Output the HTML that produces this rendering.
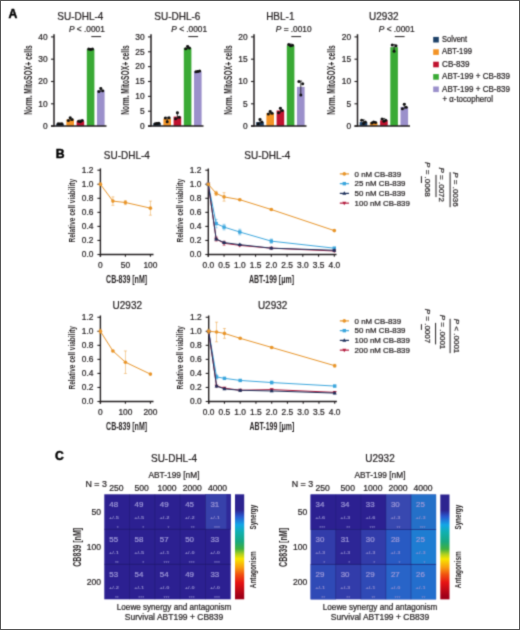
<!DOCTYPE html>
<html><head><meta charset="utf-8"><style>
html,body{margin:0;padding:0;background:#fff;}
svg{display:block;font-family:"Liberation Sans", sans-serif;}
</style></head><body><div style="will-change:transform">
<svg width="520" height="630" viewBox="0 0 520 630">
<defs>
<filter id="soft" x="0" y="0" width="1" height="1" color-interpolation-filters="sRGB"><feConvolveMatrix order="3" kernelMatrix="1 4 1 4 16 4 1 4 1" divisor="36" edgeMode="duplicate"/></filter>
<linearGradient id="cbar" x1="0" y1="0" x2="0" y2="1">
<stop offset="0" stop-color="#2d2490"/>
<stop offset="0.15" stop-color="#2d2490"/>
<stop offset="0.21" stop-color="#2a58d0"/>
<stop offset="0.29" stop-color="#12a6e6"/>
<stop offset="0.36" stop-color="#10b0b0"/>
<stop offset="0.45" stop-color="#18a880"/>
<stop offset="0.52" stop-color="#40b040"/>
<stop offset="0.57" stop-color="#b0d020"/>
<stop offset="0.615" stop-color="#f8e600"/>
<stop offset="0.7" stop-color="#f89a10"/>
<stop offset="0.765" stop-color="#f05010"/>
<stop offset="0.84" stop-color="#e61414"/>
<stop offset="0.97" stop-color="#a00018"/>
<stop offset="1" stop-color="#a00018"/>
</linearGradient>
</defs>
<g filter="url(#soft)"><rect width="520" height="630" fill="#fff"/>
<text transform="translate(8.60 17.70)" font-size="12.2" text-anchor="start" fill="#000" font-weight="bold" stroke="#000" stroke-width="0.45">A</text>
<text transform="translate(80.30 19.80) scale(0.96 1)" font-size="10.4" text-anchor="middle" fill="#231f20" stroke="#231f20" stroke-width="0.22">SU-DHL-4</text>
<line x1="54.00" y1="34.20" x2="54.00" y2="126.60" stroke="#231f20" stroke-width="1.5" />
<line x1="51.00" y1="126.10" x2="54.00" y2="126.10" stroke="#231f20" stroke-width="1.1" />
<text transform="translate(47.60 128.90)" font-size="8.4" text-anchor="end" fill="#231f20" stroke="#231f20" stroke-width="0.22">0</text>
<line x1="51.00" y1="103.80" x2="54.00" y2="103.80" stroke="#231f20" stroke-width="1.1" />
<text transform="translate(47.60 106.60)" font-size="8.4" text-anchor="end" fill="#231f20" stroke="#231f20" stroke-width="0.22">10</text>
<line x1="51.00" y1="81.50" x2="54.00" y2="81.50" stroke="#231f20" stroke-width="1.1" />
<text transform="translate(47.60 84.30)" font-size="8.4" text-anchor="end" fill="#231f20" stroke="#231f20" stroke-width="0.22">20</text>
<line x1="51.00" y1="59.20" x2="54.00" y2="59.20" stroke="#231f20" stroke-width="1.1" />
<text transform="translate(47.60 62.00)" font-size="8.4" text-anchor="end" fill="#231f20" stroke="#231f20" stroke-width="0.22">30</text>
<line x1="51.00" y1="36.90" x2="54.00" y2="36.90" stroke="#231f20" stroke-width="1.1" />
<text transform="translate(47.60 39.70)" font-size="8.4" text-anchor="end" fill="#231f20" stroke="#231f20" stroke-width="0.22">40</text>
<text transform="translate(31.80 80.00) rotate(-90)" font-size="11" text-anchor="middle" fill="#231f20" font-weight="bold" textLength="69.5" lengthAdjust="spacingAndGlyphs">Norm. MitoSOX+ cells</text>
<rect x="56.20" y="123.87" width="7.60" height="2.23" fill="#1e4269" />
<line x1="60.00" y1="123.15" x2="60.00" y2="124.59" stroke="#111" stroke-width="0.8" />
<line x1="58.70" y1="123.15" x2="61.30" y2="123.15" stroke="#111" stroke-width="0.7" />
<circle cx="58.10" cy="123.87" r="1.5" fill="#111"/>
<circle cx="60.00" cy="124.09" r="1.5" fill="#111"/>
<circle cx="61.90" cy="123.65" r="1.5" fill="#111"/>
<rect x="66.40" y="119.41" width="7.60" height="6.69" fill="#f39325" />
<line x1="70.20" y1="117.35" x2="70.20" y2="121.02" stroke="#111" stroke-width="0.8" />
<line x1="68.90" y1="117.35" x2="71.50" y2="117.35" stroke="#111" stroke-width="0.7" />
<circle cx="68.30" cy="120.52" r="1.5" fill="#111"/>
<circle cx="70.20" cy="117.85" r="1.5" fill="#111"/>
<circle cx="72.10" cy="119.41" r="1.5" fill="#111"/>
<rect x="76.60" y="121.19" width="7.60" height="4.91" fill="#c0122f" />
<line x1="80.40" y1="120.02" x2="80.40" y2="122.14" stroke="#111" stroke-width="0.8" />
<line x1="79.10" y1="120.02" x2="81.70" y2="120.02" stroke="#111" stroke-width="0.7" />
<circle cx="78.50" cy="121.19" r="1.5" fill="#111"/>
<circle cx="80.40" cy="121.64" r="1.5" fill="#111"/>
<circle cx="82.30" cy="120.52" r="1.5" fill="#111"/>
<rect x="86.80" y="49.17" width="7.60" height="76.93" fill="#3aaa35" />
<line x1="90.60" y1="48.44" x2="90.60" y2="50.11" stroke="#111" stroke-width="0.8" />
<line x1="89.30" y1="48.44" x2="91.90" y2="48.44" stroke="#111" stroke-width="0.7" />
<circle cx="88.70" cy="48.94" r="1.5" fill="#111"/>
<circle cx="90.60" cy="49.61" r="1.5" fill="#111"/>
<circle cx="92.50" cy="48.94" r="1.5" fill="#111"/>
<rect x="97.00" y="90.42" width="7.60" height="35.68" fill="#9b90cb" />
<line x1="100.80" y1="87.91" x2="100.80" y2="92.03" stroke="#111" stroke-width="0.8" />
<line x1="99.50" y1="87.91" x2="102.10" y2="87.91" stroke="#111" stroke-width="0.7" />
<circle cx="98.90" cy="91.53" r="1.5" fill="#111"/>
<circle cx="100.80" cy="88.41" r="1.5" fill="#111"/>
<circle cx="102.70" cy="90.87" r="1.5" fill="#111"/>
<line x1="51.00" y1="126.10" x2="106.50" y2="126.10" stroke="#231f20" stroke-width="1.5" />
<text x="69.00" y="32.3" font-size="8.3" fill="#231f20" stroke="#231f20" stroke-width="0.22"><tspan font-style="italic">P</tspan> &lt; .0001</text>
<line x1="91.30" y1="36.60" x2="101.10" y2="36.60" stroke="#231f20" stroke-width="1.0" />
<text transform="translate(177.30 19.80) scale(0.96 1)" font-size="10.4" text-anchor="middle" fill="#231f20" stroke="#231f20" stroke-width="0.22">SU-DHL-6</text>
<line x1="151.00" y1="34.20" x2="151.00" y2="126.60" stroke="#231f20" stroke-width="1.5" />
<line x1="148.00" y1="126.10" x2="151.00" y2="126.10" stroke="#231f20" stroke-width="1.1" />
<text transform="translate(144.60 128.90)" font-size="8.4" text-anchor="end" fill="#231f20" stroke="#231f20" stroke-width="0.22">0</text>
<line x1="148.00" y1="111.23" x2="151.00" y2="111.23" stroke="#231f20" stroke-width="1.1" />
<text transform="translate(144.60 114.03)" font-size="8.4" text-anchor="end" fill="#231f20" stroke="#231f20" stroke-width="0.22">5</text>
<line x1="148.00" y1="96.37" x2="151.00" y2="96.37" stroke="#231f20" stroke-width="1.1" />
<text transform="translate(144.60 99.17)" font-size="8.4" text-anchor="end" fill="#231f20" stroke="#231f20" stroke-width="0.22">10</text>
<line x1="148.00" y1="81.50" x2="151.00" y2="81.50" stroke="#231f20" stroke-width="1.1" />
<text transform="translate(144.60 84.30)" font-size="8.4" text-anchor="end" fill="#231f20" stroke="#231f20" stroke-width="0.22">15</text>
<line x1="148.00" y1="66.63" x2="151.00" y2="66.63" stroke="#231f20" stroke-width="1.1" />
<text transform="translate(144.60 69.43)" font-size="8.4" text-anchor="end" fill="#231f20" stroke="#231f20" stroke-width="0.22">20</text>
<line x1="148.00" y1="51.77" x2="151.00" y2="51.77" stroke="#231f20" stroke-width="1.1" />
<text transform="translate(144.60 54.57)" font-size="8.4" text-anchor="end" fill="#231f20" stroke="#231f20" stroke-width="0.22">25</text>
<line x1="148.00" y1="36.90" x2="151.00" y2="36.90" stroke="#231f20" stroke-width="1.1" />
<text transform="translate(144.60 39.70)" font-size="8.4" text-anchor="end" fill="#231f20" stroke="#231f20" stroke-width="0.22">30</text>
<text transform="translate(128.80 80.00) rotate(-90)" font-size="11" text-anchor="middle" fill="#231f20" font-weight="bold" textLength="69.5" lengthAdjust="spacingAndGlyphs">Norm. MitoSOX+ cells</text>
<rect x="153.20" y="123.42" width="7.60" height="2.68" fill="#1e4269" />
<line x1="157.00" y1="122.63" x2="157.00" y2="124.22" stroke="#111" stroke-width="0.8" />
<line x1="155.70" y1="122.63" x2="158.30" y2="122.63" stroke="#111" stroke-width="0.7" />
<circle cx="155.10" cy="123.72" r="1.5" fill="#111"/>
<circle cx="157.00" cy="123.42" r="1.5" fill="#111"/>
<circle cx="158.90" cy="123.13" r="1.5" fill="#111"/>
<rect x="163.40" y="118.67" width="7.60" height="7.43" fill="#f39325" />
<line x1="167.20" y1="117.27" x2="167.20" y2="122.14" stroke="#111" stroke-width="0.8" />
<line x1="165.90" y1="117.27" x2="168.50" y2="117.27" stroke="#111" stroke-width="0.7" />
<circle cx="165.30" cy="118.07" r="1.5" fill="#111"/>
<circle cx="167.20" cy="121.64" r="1.5" fill="#111"/>
<circle cx="169.10" cy="117.77" r="1.5" fill="#111"/>
<rect x="173.60" y="116.59" width="7.60" height="9.51" fill="#c0122f" />
<line x1="177.40" y1="112.22" x2="177.40" y2="119.17" stroke="#111" stroke-width="0.8" />
<line x1="176.10" y1="112.22" x2="178.70" y2="112.22" stroke="#111" stroke-width="0.7" />
<circle cx="175.50" cy="118.67" r="1.5" fill="#111"/>
<circle cx="177.40" cy="112.72" r="1.5" fill="#111"/>
<circle cx="179.30" cy="117.18" r="1.5" fill="#111"/>
<rect x="183.80" y="47.90" width="7.60" height="78.20" fill="#3aaa35" />
<line x1="187.60" y1="45.91" x2="187.60" y2="49.29" stroke="#111" stroke-width="0.8" />
<line x1="186.30" y1="45.91" x2="188.90" y2="45.91" stroke="#111" stroke-width="0.7" />
<circle cx="185.70" cy="48.79" r="1.5" fill="#111"/>
<circle cx="187.60" cy="46.41" r="1.5" fill="#111"/>
<circle cx="189.50" cy="47.90" r="1.5" fill="#111"/>
<rect x="194.00" y="71.39" width="7.60" height="54.71" fill="#9b90cb" />
<line x1="197.80" y1="70.59" x2="197.80" y2="72.19" stroke="#111" stroke-width="0.8" />
<line x1="196.50" y1="70.59" x2="199.10" y2="70.59" stroke="#111" stroke-width="0.7" />
<circle cx="195.90" cy="71.69" r="1.5" fill="#111"/>
<circle cx="197.80" cy="71.39" r="1.5" fill="#111"/>
<circle cx="199.70" cy="71.09" r="1.5" fill="#111"/>
<line x1="148.00" y1="126.10" x2="203.50" y2="126.10" stroke="#231f20" stroke-width="1.5" />
<text x="171.30" y="32.3" font-size="8.3" fill="#231f20" stroke="#231f20" stroke-width="0.22"><tspan font-style="italic">P</tspan> &lt; .0001</text>
<line x1="188.30" y1="36.60" x2="198.10" y2="36.60" stroke="#231f20" stroke-width="1.0" />
<text transform="translate(280.30 19.80) scale(0.96 1)" font-size="10.4" text-anchor="middle" fill="#231f20" stroke="#231f20" stroke-width="0.22">HBL-1</text>
<line x1="254.00" y1="34.20" x2="254.00" y2="126.60" stroke="#231f20" stroke-width="1.5" />
<line x1="251.00" y1="126.10" x2="254.00" y2="126.10" stroke="#231f20" stroke-width="1.1" />
<text transform="translate(247.60 128.90)" font-size="8.4" text-anchor="end" fill="#231f20" stroke="#231f20" stroke-width="0.22">0</text>
<line x1="251.00" y1="103.80" x2="254.00" y2="103.80" stroke="#231f20" stroke-width="1.1" />
<text transform="translate(247.60 106.60)" font-size="8.4" text-anchor="end" fill="#231f20" stroke="#231f20" stroke-width="0.22">5</text>
<line x1="251.00" y1="81.50" x2="254.00" y2="81.50" stroke="#231f20" stroke-width="1.1" />
<text transform="translate(247.60 84.30)" font-size="8.4" text-anchor="end" fill="#231f20" stroke="#231f20" stroke-width="0.22">10</text>
<line x1="251.00" y1="59.20" x2="254.00" y2="59.20" stroke="#231f20" stroke-width="1.1" />
<text transform="translate(247.60 62.00)" font-size="8.4" text-anchor="end" fill="#231f20" stroke="#231f20" stroke-width="0.22">15</text>
<line x1="251.00" y1="36.90" x2="254.00" y2="36.90" stroke="#231f20" stroke-width="1.1" />
<text transform="translate(247.60 39.70)" font-size="8.4" text-anchor="end" fill="#231f20" stroke="#231f20" stroke-width="0.22">20</text>
<text transform="translate(231.80 80.00) rotate(-90)" font-size="11" text-anchor="middle" fill="#231f20" font-weight="bold" textLength="69.5" lengthAdjust="spacingAndGlyphs">Norm. MitoSOX+ cells</text>
<rect x="256.20" y="122.09" width="7.60" height="4.01" fill="#1e4269" />
<line x1="260.00" y1="118.91" x2="260.00" y2="124.37" stroke="#111" stroke-width="0.8" />
<line x1="258.70" y1="118.91" x2="261.30" y2="118.91" stroke="#111" stroke-width="0.7" />
<circle cx="258.10" cy="123.87" r="1.5" fill="#111"/>
<circle cx="260.00" cy="119.41" r="1.5" fill="#111"/>
<circle cx="261.90" cy="122.09" r="1.5" fill="#111"/>
<rect x="266.40" y="113.17" width="7.60" height="12.93" fill="#f39325" />
<line x1="270.20" y1="110.88" x2="270.20" y2="114.56" stroke="#111" stroke-width="0.8" />
<line x1="268.90" y1="110.88" x2="271.50" y2="110.88" stroke="#111" stroke-width="0.7" />
<circle cx="268.30" cy="114.06" r="1.5" fill="#111"/>
<circle cx="270.20" cy="111.38" r="1.5" fill="#111"/>
<circle cx="272.10" cy="113.17" r="1.5" fill="#111"/>
<rect x="276.60" y="110.49" width="7.60" height="15.61" fill="#c0122f" />
<line x1="280.40" y1="107.76" x2="280.40" y2="113.22" stroke="#111" stroke-width="0.8" />
<line x1="279.10" y1="107.76" x2="281.70" y2="107.76" stroke="#111" stroke-width="0.7" />
<circle cx="278.50" cy="112.72" r="1.5" fill="#111"/>
<circle cx="280.40" cy="108.26" r="1.5" fill="#111"/>
<circle cx="282.30" cy="110.49" r="1.5" fill="#111"/>
<rect x="286.80" y="45.37" width="7.60" height="80.73" fill="#3aaa35" />
<line x1="290.60" y1="43.98" x2="290.60" y2="46.32" stroke="#111" stroke-width="0.8" />
<line x1="289.30" y1="43.98" x2="291.90" y2="43.98" stroke="#111" stroke-width="0.7" />
<circle cx="288.70" cy="44.48" r="1.5" fill="#111"/>
<circle cx="290.60" cy="45.82" r="1.5" fill="#111"/>
<circle cx="292.50" cy="45.37" r="1.5" fill="#111"/>
<rect x="297.00" y="86.85" width="7.60" height="39.25" fill="#9b90cb" />
<line x1="300.80" y1="81.00" x2="300.80" y2="95.38" stroke="#111" stroke-width="0.8" />
<line x1="299.50" y1="81.00" x2="302.10" y2="81.00" stroke="#111" stroke-width="0.7" />
<circle cx="298.90" cy="81.50" r="1.5" fill="#111"/>
<circle cx="300.80" cy="94.88" r="1.5" fill="#111"/>
<circle cx="302.70" cy="83.73" r="1.5" fill="#111"/>
<line x1="251.00" y1="126.10" x2="306.50" y2="126.10" stroke="#231f20" stroke-width="1.5" />
<text x="275.80" y="32.3" font-size="8.3" fill="#231f20" stroke="#231f20" stroke-width="0.22"><tspan font-style="italic">P</tspan> = .0010</text>
<line x1="291.30" y1="36.60" x2="301.10" y2="36.60" stroke="#231f20" stroke-width="1.0" />
<text transform="translate(383.80 19.80) scale(0.96 1)" font-size="10.4" text-anchor="middle" fill="#231f20" stroke="#231f20" stroke-width="0.22">U2932</text>
<line x1="357.50" y1="34.20" x2="357.50" y2="126.60" stroke="#231f20" stroke-width="1.5" />
<line x1="354.50" y1="126.10" x2="357.50" y2="126.10" stroke="#231f20" stroke-width="1.1" />
<text transform="translate(351.10 128.90)" font-size="8.4" text-anchor="end" fill="#231f20" stroke="#231f20" stroke-width="0.22">0</text>
<line x1="354.50" y1="103.80" x2="357.50" y2="103.80" stroke="#231f20" stroke-width="1.1" />
<text transform="translate(351.10 106.60)" font-size="8.4" text-anchor="end" fill="#231f20" stroke="#231f20" stroke-width="0.22">5</text>
<line x1="354.50" y1="81.50" x2="357.50" y2="81.50" stroke="#231f20" stroke-width="1.1" />
<text transform="translate(351.10 84.30)" font-size="8.4" text-anchor="end" fill="#231f20" stroke="#231f20" stroke-width="0.22">10</text>
<line x1="354.50" y1="59.20" x2="357.50" y2="59.20" stroke="#231f20" stroke-width="1.1" />
<text transform="translate(351.10 62.00)" font-size="8.4" text-anchor="end" fill="#231f20" stroke="#231f20" stroke-width="0.22">15</text>
<line x1="354.50" y1="36.90" x2="357.50" y2="36.90" stroke="#231f20" stroke-width="1.1" />
<text transform="translate(351.10 39.70)" font-size="8.4" text-anchor="end" fill="#231f20" stroke="#231f20" stroke-width="0.22">20</text>
<text transform="translate(335.30 80.00) rotate(-90)" font-size="11" text-anchor="middle" fill="#231f20" font-weight="bold" textLength="69.5" lengthAdjust="spacingAndGlyphs">Norm. MitoSOX+ cells</text>
<rect x="359.70" y="122.09" width="7.60" height="4.01" fill="#1e4269" />
<line x1="363.50" y1="119.80" x2="363.50" y2="123.92" stroke="#111" stroke-width="0.8" />
<line x1="362.20" y1="119.80" x2="364.80" y2="119.80" stroke="#111" stroke-width="0.7" />
<circle cx="361.60" cy="120.30" r="1.5" fill="#111"/>
<circle cx="363.50" cy="123.42" r="1.5" fill="#111"/>
<circle cx="365.40" cy="122.09" r="1.5" fill="#111"/>
<rect x="369.90" y="122.53" width="7.60" height="3.57" fill="#f39325" />
<line x1="373.70" y1="121.59" x2="373.70" y2="123.48" stroke="#111" stroke-width="0.8" />
<line x1="372.40" y1="121.59" x2="375.00" y2="121.59" stroke="#111" stroke-width="0.7" />
<circle cx="371.80" cy="122.98" r="1.5" fill="#111"/>
<circle cx="373.70" cy="122.09" r="1.5" fill="#111"/>
<circle cx="375.60" cy="122.53" r="1.5" fill="#111"/>
<rect x="380.10" y="120.30" width="7.60" height="5.80" fill="#c0122f" />
<line x1="383.90" y1="118.46" x2="383.90" y2="121.69" stroke="#111" stroke-width="0.8" />
<line x1="382.60" y1="118.46" x2="385.20" y2="118.46" stroke="#111" stroke-width="0.7" />
<circle cx="382.00" cy="118.96" r="1.5" fill="#111"/>
<circle cx="383.90" cy="121.19" r="1.5" fill="#111"/>
<circle cx="385.80" cy="120.30" r="1.5" fill="#111"/>
<rect x="390.30" y="47.16" width="7.60" height="78.94" fill="#3aaa35" />
<line x1="394.10" y1="44.43" x2="394.10" y2="51.67" stroke="#111" stroke-width="0.8" />
<line x1="392.80" y1="44.43" x2="395.40" y2="44.43" stroke="#111" stroke-width="0.7" />
<circle cx="392.20" cy="44.93" r="1.5" fill="#111"/>
<circle cx="394.10" cy="51.17" r="1.5" fill="#111"/>
<circle cx="396.00" cy="45.82" r="1.5" fill="#111"/>
<rect x="400.50" y="106.92" width="7.60" height="19.18" fill="#9b90cb" />
<line x1="404.30" y1="103.75" x2="404.30" y2="109.21" stroke="#111" stroke-width="0.8" />
<line x1="403.00" y1="103.75" x2="405.60" y2="103.75" stroke="#111" stroke-width="0.7" />
<circle cx="402.40" cy="108.71" r="1.5" fill="#111"/>
<circle cx="404.30" cy="104.25" r="1.5" fill="#111"/>
<circle cx="406.20" cy="107.37" r="1.5" fill="#111"/>
<line x1="354.50" y1="126.10" x2="410.00" y2="126.10" stroke="#231f20" stroke-width="1.5" />
<text x="378.80" y="32.3" font-size="8.3" fill="#231f20" stroke="#231f20" stroke-width="0.22"><tspan font-style="italic">P</tspan> &lt; .0001</text>
<line x1="394.80" y1="36.60" x2="404.60" y2="36.60" stroke="#231f20" stroke-width="1.0" />
<rect x="433.20" y="36.90" width="5.60" height="5.60" fill="#1e4269" />
<text transform="translate(442.10 42.00)" font-size="8.2" text-anchor="start" fill="#231f20" textLength="25" lengthAdjust="spacingAndGlyphs" stroke="#231f20" stroke-width="0.22">Solvent</text>
<rect x="433.20" y="49.30" width="5.60" height="5.60" fill="#f39325" />
<text transform="translate(442.10 54.40)" font-size="8.2" text-anchor="start" fill="#231f20" textLength="29.8" lengthAdjust="spacingAndGlyphs" stroke="#231f20" stroke-width="0.22">ABT-199</text>
<rect x="433.20" y="61.70" width="5.60" height="5.60" fill="#c0122f" />
<text transform="translate(442.10 66.80)" font-size="8.2" text-anchor="start" fill="#231f20" textLength="27.5" lengthAdjust="spacingAndGlyphs" stroke="#231f20" stroke-width="0.22">CB-839</text>
<rect x="433.20" y="74.10" width="5.60" height="5.60" fill="#3aaa35" />
<text transform="translate(442.10 79.20)" font-size="8.2" text-anchor="start" fill="#231f20" textLength="67.9" lengthAdjust="spacingAndGlyphs" stroke="#231f20" stroke-width="0.22">ABT-199 + CB-839</text>
<rect x="433.20" y="86.50" width="5.60" height="5.60" fill="#9b90cb" />
<text transform="translate(442.10 91.60)" font-size="8.2" text-anchor="start" fill="#231f20" textLength="67.9" lengthAdjust="spacingAndGlyphs" stroke="#231f20" stroke-width="0.22">ABT-199 + CB-839</text>
<text transform="translate(442.60 102.40)" font-size="8.2" text-anchor="start" fill="#231f20" textLength="50.3" lengthAdjust="spacingAndGlyphs" stroke="#231f20" stroke-width="0.22">+ α-tocopherol</text>
<text transform="translate(55.80 158.00)" font-size="12.2" text-anchor="start" fill="#000" font-weight="bold" stroke="#000" stroke-width="0.45">B</text>
<line x1="100.40" y1="168.40" x2="100.40" y2="256.70" stroke="#231f20" stroke-width="1.4" />
<line x1="100.40" y1="254.50" x2="153.50" y2="254.50" stroke="#231f20" stroke-width="1.4" />
<line x1="97.40" y1="254.50" x2="100.40" y2="254.50" stroke="#231f20" stroke-width="1.1" />
<text transform="translate(93.40 257.30)" font-size="8.4" text-anchor="end" fill="#231f20" stroke="#231f20" stroke-width="0.22">0.0</text>
<line x1="97.40" y1="240.45" x2="100.40" y2="240.45" stroke="#231f20" stroke-width="1.1" />
<text transform="translate(93.40 243.25)" font-size="8.4" text-anchor="end" fill="#231f20" stroke="#231f20" stroke-width="0.22">0.2</text>
<line x1="97.40" y1="226.40" x2="100.40" y2="226.40" stroke="#231f20" stroke-width="1.1" />
<text transform="translate(93.40 229.20)" font-size="8.4" text-anchor="end" fill="#231f20" stroke="#231f20" stroke-width="0.22">0.4</text>
<line x1="97.40" y1="212.35" x2="100.40" y2="212.35" stroke="#231f20" stroke-width="1.1" />
<text transform="translate(93.40 215.15)" font-size="8.4" text-anchor="end" fill="#231f20" stroke="#231f20" stroke-width="0.22">0.6</text>
<line x1="97.40" y1="198.30" x2="100.40" y2="198.30" stroke="#231f20" stroke-width="1.1" />
<text transform="translate(93.40 201.10)" font-size="8.4" text-anchor="end" fill="#231f20" stroke="#231f20" stroke-width="0.22">0.8</text>
<line x1="97.40" y1="184.25" x2="100.40" y2="184.25" stroke="#231f20" stroke-width="1.1" />
<text transform="translate(93.40 187.05)" font-size="8.4" text-anchor="end" fill="#231f20" stroke="#231f20" stroke-width="0.22">1.0</text>
<line x1="97.40" y1="170.20" x2="100.40" y2="170.20" stroke="#231f20" stroke-width="1.1" />
<text transform="translate(93.40 173.00)" font-size="8.4" text-anchor="end" fill="#231f20" stroke="#231f20" stroke-width="0.22">1.2</text>
<line x1="100.40" y1="254.50" x2="100.40" y2="256.70" stroke="#231f20" stroke-width="1.1" />
<text transform="translate(100.40 267.80)" font-size="8.4" text-anchor="middle" fill="#231f20" stroke="#231f20" stroke-width="0.22">0</text>
<line x1="125.40" y1="254.50" x2="125.40" y2="256.70" stroke="#231f20" stroke-width="1.1" />
<text transform="translate(125.40 267.80)" font-size="8.4" text-anchor="middle" fill="#231f20" stroke="#231f20" stroke-width="0.22">50</text>
<line x1="150.40" y1="254.50" x2="150.40" y2="256.70" stroke="#231f20" stroke-width="1.1" />
<text transform="translate(150.40 267.80)" font-size="8.4" text-anchor="middle" fill="#231f20" stroke="#231f20" stroke-width="0.22">100</text>
<text transform="translate(74.60 210.75) rotate(-90)" font-size="9.2" text-anchor="middle" fill="#231f20" font-weight="bold" textLength="63.5" lengthAdjust="spacingAndGlyphs">Relative cell viability</text>
<text transform="translate(126.80 158.60) scale(0.96 1)" font-size="10.4" text-anchor="middle" fill="#231f20" stroke="#231f20" stroke-width="0.22">SU-DHL-4</text>
<path d="M100.40 184.25 L112.90 201.11 L125.40 202.51 L150.40 208.13" fill="none" stroke="#e8952a" stroke-width="1.0"/>
<line x1="100.40" y1="182.84" x2="100.40" y2="185.66" stroke="#e8952a" stroke-width="0.8" opacity="0.6"/>
<line x1="98.90" y1="182.84" x2="101.90" y2="182.84" stroke="#e8952a" stroke-width="0.8" opacity="0.6"/>
<line x1="98.90" y1="185.66" x2="101.90" y2="185.66" stroke="#e8952a" stroke-width="0.8" opacity="0.6"/>
<circle cx="100.40" cy="184.25" r="1.80" fill="#e8952a"/>
<line x1="112.90" y1="196.89" x2="112.90" y2="205.32" stroke="#e8952a" stroke-width="0.8" opacity="0.6"/>
<line x1="111.40" y1="196.89" x2="114.40" y2="196.89" stroke="#e8952a" stroke-width="0.8" opacity="0.6"/>
<line x1="111.40" y1="205.32" x2="114.40" y2="205.32" stroke="#e8952a" stroke-width="0.8" opacity="0.6"/>
<circle cx="112.90" cy="201.11" r="1.80" fill="#e8952a"/>
<line x1="125.40" y1="200.41" x2="125.40" y2="204.62" stroke="#e8952a" stroke-width="0.8" opacity="0.6"/>
<line x1="123.90" y1="200.41" x2="126.90" y2="200.41" stroke="#e8952a" stroke-width="0.8" opacity="0.6"/>
<line x1="123.90" y1="204.62" x2="126.90" y2="204.62" stroke="#e8952a" stroke-width="0.8" opacity="0.6"/>
<circle cx="125.40" cy="202.51" r="1.80" fill="#e8952a"/>
<line x1="150.40" y1="201.11" x2="150.40" y2="215.16" stroke="#e8952a" stroke-width="0.8" opacity="0.6"/>
<line x1="148.90" y1="201.11" x2="151.90" y2="201.11" stroke="#e8952a" stroke-width="0.8" opacity="0.6"/>
<line x1="148.90" y1="215.16" x2="151.90" y2="215.16" stroke="#e8952a" stroke-width="0.8" opacity="0.6"/>
<circle cx="150.40" cy="208.13" r="1.80" fill="#e8952a"/>
<text transform="translate(126.60 282.60)" font-size="10" text-anchor="middle" fill="#231f20" font-weight="bold" textLength="41" lengthAdjust="spacingAndGlyphs">CB-839 [nM]</text>
<line x1="208.30" y1="168.40" x2="208.30" y2="256.70" stroke="#231f20" stroke-width="1.4" />
<line x1="208.30" y1="254.50" x2="336.50" y2="254.50" stroke="#231f20" stroke-width="1.4" />
<line x1="205.30" y1="254.50" x2="208.30" y2="254.50" stroke="#231f20" stroke-width="1.1" />
<text transform="translate(201.30 257.30)" font-size="8.4" text-anchor="end" fill="#231f20" stroke="#231f20" stroke-width="0.22">0.0</text>
<line x1="205.30" y1="240.45" x2="208.30" y2="240.45" stroke="#231f20" stroke-width="1.1" />
<text transform="translate(201.30 243.25)" font-size="8.4" text-anchor="end" fill="#231f20" stroke="#231f20" stroke-width="0.22">0.2</text>
<line x1="205.30" y1="226.40" x2="208.30" y2="226.40" stroke="#231f20" stroke-width="1.1" />
<text transform="translate(201.30 229.20)" font-size="8.4" text-anchor="end" fill="#231f20" stroke="#231f20" stroke-width="0.22">0.4</text>
<line x1="205.30" y1="212.35" x2="208.30" y2="212.35" stroke="#231f20" stroke-width="1.1" />
<text transform="translate(201.30 215.15)" font-size="8.4" text-anchor="end" fill="#231f20" stroke="#231f20" stroke-width="0.22">0.6</text>
<line x1="205.30" y1="198.30" x2="208.30" y2="198.30" stroke="#231f20" stroke-width="1.1" />
<text transform="translate(201.30 201.10)" font-size="8.4" text-anchor="end" fill="#231f20" stroke="#231f20" stroke-width="0.22">0.8</text>
<line x1="205.30" y1="184.25" x2="208.30" y2="184.25" stroke="#231f20" stroke-width="1.1" />
<text transform="translate(201.30 187.05)" font-size="8.4" text-anchor="end" fill="#231f20" stroke="#231f20" stroke-width="0.22">1.0</text>
<line x1="205.30" y1="170.20" x2="208.30" y2="170.20" stroke="#231f20" stroke-width="1.1" />
<text transform="translate(201.30 173.00)" font-size="8.4" text-anchor="end" fill="#231f20" stroke="#231f20" stroke-width="0.22">1.2</text>
<line x1="208.30" y1="254.50" x2="208.30" y2="256.70" stroke="#231f20" stroke-width="1.1" />
<text transform="translate(208.30 267.80)" font-size="8.4" text-anchor="middle" fill="#231f20" stroke="#231f20" stroke-width="0.22">0.0</text>
<line x1="224.05" y1="254.50" x2="224.05" y2="256.70" stroke="#231f20" stroke-width="1.1" />
<text transform="translate(224.05 267.80)" font-size="8.4" text-anchor="middle" fill="#231f20" stroke="#231f20" stroke-width="0.22">0.5</text>
<line x1="239.80" y1="254.50" x2="239.80" y2="256.70" stroke="#231f20" stroke-width="1.1" />
<text transform="translate(239.80 267.80)" font-size="8.4" text-anchor="middle" fill="#231f20" stroke="#231f20" stroke-width="0.22">1.0</text>
<line x1="255.55" y1="254.50" x2="255.55" y2="256.70" stroke="#231f20" stroke-width="1.1" />
<text transform="translate(255.55 267.80)" font-size="8.4" text-anchor="middle" fill="#231f20" stroke="#231f20" stroke-width="0.22">1.5</text>
<line x1="271.30" y1="254.50" x2="271.30" y2="256.70" stroke="#231f20" stroke-width="1.1" />
<text transform="translate(271.30 267.80)" font-size="8.4" text-anchor="middle" fill="#231f20" stroke="#231f20" stroke-width="0.22">2.0</text>
<line x1="287.05" y1="254.50" x2="287.05" y2="256.70" stroke="#231f20" stroke-width="1.1" />
<text transform="translate(287.05 267.80)" font-size="8.4" text-anchor="middle" fill="#231f20" stroke="#231f20" stroke-width="0.22">2.5</text>
<line x1="302.80" y1="254.50" x2="302.80" y2="256.70" stroke="#231f20" stroke-width="1.1" />
<text transform="translate(302.80 267.80)" font-size="8.4" text-anchor="middle" fill="#231f20" stroke="#231f20" stroke-width="0.22">3.0</text>
<line x1="318.55" y1="254.50" x2="318.55" y2="256.70" stroke="#231f20" stroke-width="1.1" />
<text transform="translate(318.55 267.80)" font-size="8.4" text-anchor="middle" fill="#231f20" stroke="#231f20" stroke-width="0.22">3.5</text>
<line x1="334.30" y1="254.50" x2="334.30" y2="256.70" stroke="#231f20" stroke-width="1.1" />
<text transform="translate(334.30 267.80)" font-size="8.4" text-anchor="middle" fill="#231f20" stroke="#231f20" stroke-width="0.22">4.0</text>
<text transform="translate(183.00 210.75) rotate(-90)" font-size="9.2" text-anchor="middle" fill="#231f20" font-weight="bold" textLength="63.5" lengthAdjust="spacingAndGlyphs">Relative cell viability</text>
<text transform="translate(267.30 159.00) scale(0.96 1)" font-size="10.4" text-anchor="middle" fill="#231f20" stroke="#231f20" stroke-width="0.22">SU-DHL-4</text>
<path d="M208.30 184.25 L216.18 223.59 L224.05 227.10 L239.80 232.02 L271.30 241.15 L334.30 248.18" fill="none" stroke="#3ba6dd" stroke-width="1.0"/>
<rect x="206.60" y="182.55" width="3.40" height="3.40" fill="#3ba6dd"/>
<line x1="216.18" y1="219.38" x2="216.18" y2="227.81" stroke="#3ba6dd" stroke-width="0.8" opacity="0.6"/>
<line x1="214.68" y1="219.38" x2="217.68" y2="219.38" stroke="#3ba6dd" stroke-width="0.8" opacity="0.6"/>
<line x1="214.68" y1="227.81" x2="217.68" y2="227.81" stroke="#3ba6dd" stroke-width="0.8" opacity="0.6"/>
<rect x="214.48" y="221.89" width="3.40" height="3.40" fill="#3ba6dd"/>
<line x1="224.05" y1="224.29" x2="224.05" y2="229.91" stroke="#3ba6dd" stroke-width="0.8" opacity="0.6"/>
<line x1="222.55" y1="224.29" x2="225.55" y2="224.29" stroke="#3ba6dd" stroke-width="0.8" opacity="0.6"/>
<line x1="222.55" y1="229.91" x2="225.55" y2="229.91" stroke="#3ba6dd" stroke-width="0.8" opacity="0.6"/>
<rect x="222.35" y="225.40" width="3.40" height="3.40" fill="#3ba6dd"/>
<line x1="239.80" y1="229.21" x2="239.80" y2="234.83" stroke="#3ba6dd" stroke-width="0.8" opacity="0.6"/>
<line x1="238.30" y1="229.21" x2="241.30" y2="229.21" stroke="#3ba6dd" stroke-width="0.8" opacity="0.6"/>
<line x1="238.30" y1="234.83" x2="241.30" y2="234.83" stroke="#3ba6dd" stroke-width="0.8" opacity="0.6"/>
<rect x="238.10" y="230.32" width="3.40" height="3.40" fill="#3ba6dd"/>
<line x1="271.30" y1="239.04" x2="271.30" y2="243.26" stroke="#3ba6dd" stroke-width="0.8" opacity="0.6"/>
<line x1="269.80" y1="239.04" x2="272.80" y2="239.04" stroke="#3ba6dd" stroke-width="0.8" opacity="0.6"/>
<line x1="269.80" y1="243.26" x2="272.80" y2="243.26" stroke="#3ba6dd" stroke-width="0.8" opacity="0.6"/>
<rect x="269.60" y="239.45" width="3.40" height="3.40" fill="#3ba6dd"/>
<line x1="334.30" y1="247.47" x2="334.30" y2="248.88" stroke="#3ba6dd" stroke-width="0.8" opacity="0.6"/>
<line x1="332.80" y1="247.47" x2="335.80" y2="247.47" stroke="#3ba6dd" stroke-width="0.8" opacity="0.6"/>
<line x1="332.80" y1="248.88" x2="335.80" y2="248.88" stroke="#3ba6dd" stroke-width="0.8" opacity="0.6"/>
<rect x="332.60" y="246.48" width="3.40" height="3.40" fill="#3ba6dd"/>
<path d="M208.30 184.25 L216.18 239.04 L224.05 243.26 L239.80 245.37 L271.30 248.18 L334.30 250.99" fill="none" stroke="#b31c3e" stroke-width="1.0"/>
<path d="M208.30 186.35L210.30 182.85L206.30 182.85Z" fill="#b31c3e"/>
<line x1="216.18" y1="236.94" x2="216.18" y2="241.15" stroke="#b31c3e" stroke-width="0.8" opacity="0.6"/>
<line x1="214.68" y1="236.94" x2="217.68" y2="236.94" stroke="#b31c3e" stroke-width="0.8" opacity="0.6"/>
<line x1="214.68" y1="241.15" x2="217.68" y2="241.15" stroke="#b31c3e" stroke-width="0.8" opacity="0.6"/>
<path d="M216.18 241.14L218.18 237.64L214.18 237.64Z" fill="#b31c3e"/>
<line x1="224.05" y1="241.15" x2="224.05" y2="245.37" stroke="#b31c3e" stroke-width="0.8" opacity="0.6"/>
<line x1="222.55" y1="241.15" x2="225.55" y2="241.15" stroke="#b31c3e" stroke-width="0.8" opacity="0.6"/>
<line x1="222.55" y1="245.37" x2="225.55" y2="245.37" stroke="#b31c3e" stroke-width="0.8" opacity="0.6"/>
<path d="M224.05 245.36L226.05 241.86L222.05 241.86Z" fill="#b31c3e"/>
<line x1="239.80" y1="244.66" x2="239.80" y2="246.07" stroke="#b31c3e" stroke-width="0.8" opacity="0.6"/>
<line x1="238.30" y1="244.66" x2="241.30" y2="244.66" stroke="#b31c3e" stroke-width="0.8" opacity="0.6"/>
<line x1="238.30" y1="246.07" x2="241.30" y2="246.07" stroke="#b31c3e" stroke-width="0.8" opacity="0.6"/>
<path d="M239.80 247.47L241.80 243.97L237.80 243.97Z" fill="#b31c3e"/>
<line x1="271.30" y1="247.47" x2="271.30" y2="248.88" stroke="#b31c3e" stroke-width="0.8" opacity="0.6"/>
<line x1="269.80" y1="247.47" x2="272.80" y2="247.47" stroke="#b31c3e" stroke-width="0.8" opacity="0.6"/>
<line x1="269.80" y1="248.88" x2="272.80" y2="248.88" stroke="#b31c3e" stroke-width="0.8" opacity="0.6"/>
<path d="M271.30 250.28L273.30 246.78L269.30 246.78Z" fill="#b31c3e"/>
<line x1="334.30" y1="250.28" x2="334.30" y2="251.69" stroke="#b31c3e" stroke-width="0.8" opacity="0.6"/>
<line x1="332.80" y1="250.28" x2="335.80" y2="250.28" stroke="#b31c3e" stroke-width="0.8" opacity="0.6"/>
<line x1="332.80" y1="251.69" x2="335.80" y2="251.69" stroke="#b31c3e" stroke-width="0.8" opacity="0.6"/>
<path d="M334.30 253.09L336.30 249.59L332.30 249.59Z" fill="#b31c3e"/>
<path d="M208.30 184.25 L216.18 239.04 L224.05 242.56 L239.80 244.66 L271.30 248.18 L334.30 250.28" fill="none" stroke="#1c2f5a" stroke-width="1.0"/>
<path d="M208.30 182.15L210.30 185.65L206.30 185.65Z" fill="#1c2f5a"/>
<line x1="216.18" y1="238.34" x2="216.18" y2="239.75" stroke="#1c2f5a" stroke-width="0.8" opacity="0.6"/>
<line x1="214.68" y1="238.34" x2="217.68" y2="238.34" stroke="#1c2f5a" stroke-width="0.8" opacity="0.6"/>
<line x1="214.68" y1="239.75" x2="217.68" y2="239.75" stroke="#1c2f5a" stroke-width="0.8" opacity="0.6"/>
<path d="M216.18 236.94L218.18 240.44L214.18 240.44Z" fill="#1c2f5a"/>
<line x1="224.05" y1="241.85" x2="224.05" y2="243.26" stroke="#1c2f5a" stroke-width="0.8" opacity="0.6"/>
<line x1="222.55" y1="241.85" x2="225.55" y2="241.85" stroke="#1c2f5a" stroke-width="0.8" opacity="0.6"/>
<line x1="222.55" y1="243.26" x2="225.55" y2="243.26" stroke="#1c2f5a" stroke-width="0.8" opacity="0.6"/>
<path d="M224.05 240.46L226.05 243.96L222.05 243.96Z" fill="#1c2f5a"/>
<line x1="239.80" y1="243.96" x2="239.80" y2="245.37" stroke="#1c2f5a" stroke-width="0.8" opacity="0.6"/>
<line x1="238.30" y1="243.96" x2="241.30" y2="243.96" stroke="#1c2f5a" stroke-width="0.8" opacity="0.6"/>
<line x1="238.30" y1="245.37" x2="241.30" y2="245.37" stroke="#1c2f5a" stroke-width="0.8" opacity="0.6"/>
<path d="M239.80 242.56L241.80 246.06L237.80 246.06Z" fill="#1c2f5a"/>
<line x1="271.30" y1="247.47" x2="271.30" y2="248.88" stroke="#1c2f5a" stroke-width="0.8" opacity="0.6"/>
<line x1="269.80" y1="247.47" x2="272.80" y2="247.47" stroke="#1c2f5a" stroke-width="0.8" opacity="0.6"/>
<line x1="269.80" y1="248.88" x2="272.80" y2="248.88" stroke="#1c2f5a" stroke-width="0.8" opacity="0.6"/>
<path d="M271.30 246.08L273.30 249.58L269.30 249.58Z" fill="#1c2f5a"/>
<line x1="334.30" y1="249.58" x2="334.30" y2="250.99" stroke="#1c2f5a" stroke-width="0.8" opacity="0.6"/>
<line x1="332.80" y1="249.58" x2="335.80" y2="249.58" stroke="#1c2f5a" stroke-width="0.8" opacity="0.6"/>
<line x1="332.80" y1="250.99" x2="335.80" y2="250.99" stroke="#1c2f5a" stroke-width="0.8" opacity="0.6"/>
<path d="M334.30 248.19L336.30 251.69L332.30 251.69Z" fill="#1c2f5a"/>
<path d="M208.30 184.25 L216.18 193.38 L224.05 196.90 L239.80 199.70 L271.30 209.54 L334.30 230.62" fill="none" stroke="#e8952a" stroke-width="1.0"/>
<circle cx="208.30" cy="184.25" r="1.80" fill="#e8952a"/>
<line x1="216.18" y1="191.28" x2="216.18" y2="195.49" stroke="#e8952a" stroke-width="0.8" opacity="0.6"/>
<line x1="214.68" y1="191.28" x2="217.68" y2="191.28" stroke="#e8952a" stroke-width="0.8" opacity="0.6"/>
<line x1="214.68" y1="195.49" x2="217.68" y2="195.49" stroke="#e8952a" stroke-width="0.8" opacity="0.6"/>
<circle cx="216.18" cy="193.38" r="1.80" fill="#e8952a"/>
<line x1="224.05" y1="192.68" x2="224.05" y2="201.11" stroke="#e8952a" stroke-width="0.8" opacity="0.6"/>
<line x1="222.55" y1="192.68" x2="225.55" y2="192.68" stroke="#e8952a" stroke-width="0.8" opacity="0.6"/>
<line x1="222.55" y1="201.11" x2="225.55" y2="201.11" stroke="#e8952a" stroke-width="0.8" opacity="0.6"/>
<circle cx="224.05" cy="196.90" r="1.80" fill="#e8952a"/>
<line x1="239.80" y1="199.00" x2="239.80" y2="200.41" stroke="#e8952a" stroke-width="0.8" opacity="0.6"/>
<line x1="238.30" y1="199.00" x2="241.30" y2="199.00" stroke="#e8952a" stroke-width="0.8" opacity="0.6"/>
<line x1="238.30" y1="200.41" x2="241.30" y2="200.41" stroke="#e8952a" stroke-width="0.8" opacity="0.6"/>
<circle cx="239.80" cy="199.70" r="1.80" fill="#e8952a"/>
<line x1="271.30" y1="208.84" x2="271.30" y2="210.24" stroke="#e8952a" stroke-width="0.8" opacity="0.6"/>
<line x1="269.80" y1="208.84" x2="272.80" y2="208.84" stroke="#e8952a" stroke-width="0.8" opacity="0.6"/>
<line x1="269.80" y1="210.24" x2="272.80" y2="210.24" stroke="#e8952a" stroke-width="0.8" opacity="0.6"/>
<circle cx="271.30" cy="209.54" r="1.80" fill="#e8952a"/>
<line x1="334.30" y1="229.91" x2="334.30" y2="231.32" stroke="#e8952a" stroke-width="0.8" opacity="0.6"/>
<line x1="332.80" y1="229.91" x2="335.80" y2="229.91" stroke="#e8952a" stroke-width="0.8" opacity="0.6"/>
<line x1="332.80" y1="231.32" x2="335.80" y2="231.32" stroke="#e8952a" stroke-width="0.8" opacity="0.6"/>
<circle cx="334.30" cy="230.62" r="1.80" fill="#e8952a"/>
<text transform="translate(271.50 282.60)" font-size="10" text-anchor="middle" fill="#231f20" font-weight="bold" textLength="45" lengthAdjust="spacingAndGlyphs">ABT-199 [μm]</text>
<line x1="339.80" y1="173.90" x2="349.00" y2="173.90" stroke="#e8952a" stroke-width="1.2" />
<circle cx="344.30" cy="173.90" r="1.80" fill="#e8952a"/>
<text transform="translate(354.60 176.70)" font-size="7.9" text-anchor="start" fill="#231f20" stroke="#231f20" stroke-width="0.22">0 nM CB-839</text>
<line x1="339.80" y1="183.65" x2="349.00" y2="183.65" stroke="#3ba6dd" stroke-width="1.2" />
<rect x="342.60" y="181.95" width="3.40" height="3.40" fill="#3ba6dd"/>
<text transform="translate(354.60 186.45)" font-size="7.9" text-anchor="start" fill="#231f20" stroke="#231f20" stroke-width="0.22">25 nM CB-839</text>
<line x1="339.80" y1="193.40" x2="349.00" y2="193.40" stroke="#1c2f5a" stroke-width="1.2" />
<path d="M344.30 191.30L346.30 194.80L342.30 194.80Z" fill="#1c2f5a"/>
<text transform="translate(354.60 196.20)" font-size="7.9" text-anchor="start" fill="#231f20" stroke="#231f20" stroke-width="0.22">50 nM CB-839</text>
<line x1="339.80" y1="203.15" x2="349.00" y2="203.15" stroke="#b31c3e" stroke-width="1.2" />
<path d="M344.30 205.25L346.30 201.75L342.30 201.75Z" fill="#b31c3e"/>
<text transform="translate(354.60 205.95)" font-size="7.9" text-anchor="start" fill="#231f20" stroke="#231f20" stroke-width="0.22">100 nM CB-839</text>
<text transform="translate(453.30 172.20) rotate(90)" font-size="8" fill="#231f20" stroke="#231f20" stroke-width="0.22"><tspan font-style="italic">P</tspan> = .0036</text>
<line x1="450.10" y1="172.20" x2="450.10" y2="207.20" stroke="#231f20" stroke-width="1.0" />
<text transform="translate(439.30 167.50) rotate(90)" font-size="8" fill="#231f20" stroke="#231f20" stroke-width="0.22"><tspan font-style="italic">P</tspan> = .0072</text>
<line x1="436.00" y1="174.90" x2="436.00" y2="197.10" stroke="#231f20" stroke-width="1.0" />
<text transform="translate(424.50 162.10) rotate(90)" font-size="8" fill="#231f20" stroke="#231f20" stroke-width="0.22"><tspan font-style="italic">P</tspan> = .0068</text>
<line x1="421.40" y1="176.20" x2="421.40" y2="183.00" stroke="#231f20" stroke-width="1.0" />
<line x1="100.40" y1="315.46" x2="100.40" y2="403.70" stroke="#231f20" stroke-width="1.4" />
<line x1="100.40" y1="401.50" x2="153.50" y2="401.50" stroke="#231f20" stroke-width="1.4" />
<line x1="97.40" y1="401.50" x2="100.40" y2="401.50" stroke="#231f20" stroke-width="1.1" />
<text transform="translate(93.40 404.30)" font-size="8.4" text-anchor="end" fill="#231f20" stroke="#231f20" stroke-width="0.22">0.0</text>
<line x1="97.40" y1="387.46" x2="100.40" y2="387.46" stroke="#231f20" stroke-width="1.1" />
<text transform="translate(93.40 390.26)" font-size="8.4" text-anchor="end" fill="#231f20" stroke="#231f20" stroke-width="0.22">0.2</text>
<line x1="97.40" y1="373.42" x2="100.40" y2="373.42" stroke="#231f20" stroke-width="1.1" />
<text transform="translate(93.40 376.22)" font-size="8.4" text-anchor="end" fill="#231f20" stroke="#231f20" stroke-width="0.22">0.4</text>
<line x1="97.40" y1="359.38" x2="100.40" y2="359.38" stroke="#231f20" stroke-width="1.1" />
<text transform="translate(93.40 362.18)" font-size="8.4" text-anchor="end" fill="#231f20" stroke="#231f20" stroke-width="0.22">0.6</text>
<line x1="97.40" y1="345.34" x2="100.40" y2="345.34" stroke="#231f20" stroke-width="1.1" />
<text transform="translate(93.40 348.14)" font-size="8.4" text-anchor="end" fill="#231f20" stroke="#231f20" stroke-width="0.22">0.8</text>
<line x1="97.40" y1="331.30" x2="100.40" y2="331.30" stroke="#231f20" stroke-width="1.1" />
<text transform="translate(93.40 334.10)" font-size="8.4" text-anchor="end" fill="#231f20" stroke="#231f20" stroke-width="0.22">1.0</text>
<line x1="97.40" y1="317.26" x2="100.40" y2="317.26" stroke="#231f20" stroke-width="1.1" />
<text transform="translate(93.40 320.06)" font-size="8.4" text-anchor="end" fill="#231f20" stroke="#231f20" stroke-width="0.22">1.2</text>
<line x1="100.40" y1="401.50" x2="100.40" y2="403.70" stroke="#231f20" stroke-width="1.1" />
<text transform="translate(100.40 414.80)" font-size="8.4" text-anchor="middle" fill="#231f20" stroke="#231f20" stroke-width="0.22">0</text>
<line x1="125.40" y1="401.50" x2="125.40" y2="403.70" stroke="#231f20" stroke-width="1.1" />
<text transform="translate(125.40 414.80)" font-size="8.4" text-anchor="middle" fill="#231f20" stroke="#231f20" stroke-width="0.22">100</text>
<line x1="150.40" y1="401.50" x2="150.40" y2="403.70" stroke="#231f20" stroke-width="1.1" />
<text transform="translate(150.40 414.80)" font-size="8.4" text-anchor="middle" fill="#231f20" stroke="#231f20" stroke-width="0.22">200</text>
<text transform="translate(74.60 357.78) rotate(-90)" font-size="9.2" text-anchor="middle" fill="#231f20" font-weight="bold" textLength="63.5" lengthAdjust="spacingAndGlyphs">Relative cell viability</text>
<text transform="translate(127.30 308.80) scale(0.96 1)" font-size="10.4" text-anchor="middle" fill="#231f20" stroke="#231f20" stroke-width="0.22">U2932</text>
<path d="M100.40 331.30 L112.90 350.96 L125.40 362.19 L150.40 374.12" fill="none" stroke="#e8952a" stroke-width="1.0"/>
<line x1="100.40" y1="329.19" x2="100.40" y2="333.41" stroke="#e8952a" stroke-width="0.8" opacity="0.6"/>
<line x1="98.90" y1="329.19" x2="101.90" y2="329.19" stroke="#e8952a" stroke-width="0.8" opacity="0.6"/>
<line x1="98.90" y1="333.41" x2="101.90" y2="333.41" stroke="#e8952a" stroke-width="0.8" opacity="0.6"/>
<circle cx="100.40" cy="331.30" r="1.80" fill="#e8952a"/>
<line x1="112.90" y1="350.25" x2="112.90" y2="351.66" stroke="#e8952a" stroke-width="0.8" opacity="0.6"/>
<line x1="111.40" y1="350.25" x2="114.40" y2="350.25" stroke="#e8952a" stroke-width="0.8" opacity="0.6"/>
<line x1="111.40" y1="351.66" x2="114.40" y2="351.66" stroke="#e8952a" stroke-width="0.8" opacity="0.6"/>
<circle cx="112.90" cy="350.96" r="1.80" fill="#e8952a"/>
<line x1="125.40" y1="350.96" x2="125.40" y2="373.42" stroke="#e8952a" stroke-width="0.8" opacity="0.6"/>
<line x1="123.90" y1="350.96" x2="126.90" y2="350.96" stroke="#e8952a" stroke-width="0.8" opacity="0.6"/>
<line x1="123.90" y1="373.42" x2="126.90" y2="373.42" stroke="#e8952a" stroke-width="0.8" opacity="0.6"/>
<circle cx="125.40" cy="362.19" r="1.80" fill="#e8952a"/>
<line x1="150.40" y1="373.42" x2="150.40" y2="374.82" stroke="#e8952a" stroke-width="0.8" opacity="0.6"/>
<line x1="148.90" y1="373.42" x2="151.90" y2="373.42" stroke="#e8952a" stroke-width="0.8" opacity="0.6"/>
<line x1="148.90" y1="374.82" x2="151.90" y2="374.82" stroke="#e8952a" stroke-width="0.8" opacity="0.6"/>
<circle cx="150.40" cy="374.12" r="1.80" fill="#e8952a"/>
<text transform="translate(126.60 429.80)" font-size="10" text-anchor="middle" fill="#231f20" font-weight="bold" textLength="41" lengthAdjust="spacingAndGlyphs">CB-839 [nM]</text>
<line x1="208.70" y1="315.46" x2="208.70" y2="403.70" stroke="#231f20" stroke-width="1.4" />
<line x1="208.70" y1="401.50" x2="336.90" y2="401.50" stroke="#231f20" stroke-width="1.4" />
<line x1="205.70" y1="401.50" x2="208.70" y2="401.50" stroke="#231f20" stroke-width="1.1" />
<text transform="translate(201.70 404.30)" font-size="8.4" text-anchor="end" fill="#231f20" stroke="#231f20" stroke-width="0.22">0.0</text>
<line x1="205.70" y1="387.46" x2="208.70" y2="387.46" stroke="#231f20" stroke-width="1.1" />
<text transform="translate(201.70 390.26)" font-size="8.4" text-anchor="end" fill="#231f20" stroke="#231f20" stroke-width="0.22">0.2</text>
<line x1="205.70" y1="373.42" x2="208.70" y2="373.42" stroke="#231f20" stroke-width="1.1" />
<text transform="translate(201.70 376.22)" font-size="8.4" text-anchor="end" fill="#231f20" stroke="#231f20" stroke-width="0.22">0.4</text>
<line x1="205.70" y1="359.38" x2="208.70" y2="359.38" stroke="#231f20" stroke-width="1.1" />
<text transform="translate(201.70 362.18)" font-size="8.4" text-anchor="end" fill="#231f20" stroke="#231f20" stroke-width="0.22">0.6</text>
<line x1="205.70" y1="345.34" x2="208.70" y2="345.34" stroke="#231f20" stroke-width="1.1" />
<text transform="translate(201.70 348.14)" font-size="8.4" text-anchor="end" fill="#231f20" stroke="#231f20" stroke-width="0.22">0.8</text>
<line x1="205.70" y1="331.30" x2="208.70" y2="331.30" stroke="#231f20" stroke-width="1.1" />
<text transform="translate(201.70 334.10)" font-size="8.4" text-anchor="end" fill="#231f20" stroke="#231f20" stroke-width="0.22">1.0</text>
<line x1="205.70" y1="317.26" x2="208.70" y2="317.26" stroke="#231f20" stroke-width="1.1" />
<text transform="translate(201.70 320.06)" font-size="8.4" text-anchor="end" fill="#231f20" stroke="#231f20" stroke-width="0.22">1.2</text>
<line x1="208.70" y1="401.50" x2="208.70" y2="403.70" stroke="#231f20" stroke-width="1.1" />
<text transform="translate(208.70 414.80)" font-size="8.4" text-anchor="middle" fill="#231f20" stroke="#231f20" stroke-width="0.22">0.0</text>
<line x1="224.45" y1="401.50" x2="224.45" y2="403.70" stroke="#231f20" stroke-width="1.1" />
<text transform="translate(224.45 414.80)" font-size="8.4" text-anchor="middle" fill="#231f20" stroke="#231f20" stroke-width="0.22">0.5</text>
<line x1="240.20" y1="401.50" x2="240.20" y2="403.70" stroke="#231f20" stroke-width="1.1" />
<text transform="translate(240.20 414.80)" font-size="8.4" text-anchor="middle" fill="#231f20" stroke="#231f20" stroke-width="0.22">1.0</text>
<line x1="255.95" y1="401.50" x2="255.95" y2="403.70" stroke="#231f20" stroke-width="1.1" />
<text transform="translate(255.95 414.80)" font-size="8.4" text-anchor="middle" fill="#231f20" stroke="#231f20" stroke-width="0.22">1.5</text>
<line x1="271.70" y1="401.50" x2="271.70" y2="403.70" stroke="#231f20" stroke-width="1.1" />
<text transform="translate(271.70 414.80)" font-size="8.4" text-anchor="middle" fill="#231f20" stroke="#231f20" stroke-width="0.22">2.0</text>
<line x1="287.45" y1="401.50" x2="287.45" y2="403.70" stroke="#231f20" stroke-width="1.1" />
<text transform="translate(287.45 414.80)" font-size="8.4" text-anchor="middle" fill="#231f20" stroke="#231f20" stroke-width="0.22">2.5</text>
<line x1="303.20" y1="401.50" x2="303.20" y2="403.70" stroke="#231f20" stroke-width="1.1" />
<text transform="translate(303.20 414.80)" font-size="8.4" text-anchor="middle" fill="#231f20" stroke="#231f20" stroke-width="0.22">3.0</text>
<line x1="318.95" y1="401.50" x2="318.95" y2="403.70" stroke="#231f20" stroke-width="1.1" />
<text transform="translate(318.95 414.80)" font-size="8.4" text-anchor="middle" fill="#231f20" stroke="#231f20" stroke-width="0.22">3.5</text>
<line x1="334.70" y1="401.50" x2="334.70" y2="403.70" stroke="#231f20" stroke-width="1.1" />
<text transform="translate(334.70 414.80)" font-size="8.4" text-anchor="middle" fill="#231f20" stroke="#231f20" stroke-width="0.22">4.0</text>
<text transform="translate(183.40 357.78) rotate(-90)" font-size="9.2" text-anchor="middle" fill="#231f20" font-weight="bold" textLength="63.5" lengthAdjust="spacingAndGlyphs">Relative cell viability</text>
<text transform="translate(272.60 308.80) scale(0.96 1)" font-size="10.4" text-anchor="middle" fill="#231f20" stroke="#231f20" stroke-width="0.22">U2932</text>
<path d="M208.70 331.30 L216.57 376.93 L224.45 378.33 L240.20 380.44 L271.70 382.55 L334.70 386.06" fill="none" stroke="#3ba6dd" stroke-width="1.0"/>
<rect x="207.00" y="329.60" width="3.40" height="3.40" fill="#3ba6dd"/>
<line x1="216.57" y1="374.82" x2="216.57" y2="379.04" stroke="#3ba6dd" stroke-width="0.8" opacity="0.6"/>
<line x1="215.07" y1="374.82" x2="218.07" y2="374.82" stroke="#3ba6dd" stroke-width="0.8" opacity="0.6"/>
<line x1="215.07" y1="379.04" x2="218.07" y2="379.04" stroke="#3ba6dd" stroke-width="0.8" opacity="0.6"/>
<rect x="214.88" y="375.23" width="3.40" height="3.40" fill="#3ba6dd"/>
<line x1="224.45" y1="377.63" x2="224.45" y2="379.04" stroke="#3ba6dd" stroke-width="0.8" opacity="0.6"/>
<line x1="222.95" y1="377.63" x2="225.95" y2="377.63" stroke="#3ba6dd" stroke-width="0.8" opacity="0.6"/>
<line x1="222.95" y1="379.04" x2="225.95" y2="379.04" stroke="#3ba6dd" stroke-width="0.8" opacity="0.6"/>
<rect x="222.75" y="376.63" width="3.40" height="3.40" fill="#3ba6dd"/>
<line x1="240.20" y1="379.74" x2="240.20" y2="381.14" stroke="#3ba6dd" stroke-width="0.8" opacity="0.6"/>
<line x1="238.70" y1="379.74" x2="241.70" y2="379.74" stroke="#3ba6dd" stroke-width="0.8" opacity="0.6"/>
<line x1="238.70" y1="381.14" x2="241.70" y2="381.14" stroke="#3ba6dd" stroke-width="0.8" opacity="0.6"/>
<rect x="238.50" y="378.74" width="3.40" height="3.40" fill="#3ba6dd"/>
<line x1="271.70" y1="381.14" x2="271.70" y2="383.95" stroke="#3ba6dd" stroke-width="0.8" opacity="0.6"/>
<line x1="270.20" y1="381.14" x2="273.20" y2="381.14" stroke="#3ba6dd" stroke-width="0.8" opacity="0.6"/>
<line x1="270.20" y1="383.95" x2="273.20" y2="383.95" stroke="#3ba6dd" stroke-width="0.8" opacity="0.6"/>
<rect x="270.00" y="380.85" width="3.40" height="3.40" fill="#3ba6dd"/>
<line x1="334.70" y1="385.35" x2="334.70" y2="386.76" stroke="#3ba6dd" stroke-width="0.8" opacity="0.6"/>
<line x1="333.20" y1="385.35" x2="336.20" y2="385.35" stroke="#3ba6dd" stroke-width="0.8" opacity="0.6"/>
<line x1="333.20" y1="386.76" x2="336.20" y2="386.76" stroke="#3ba6dd" stroke-width="0.8" opacity="0.6"/>
<rect x="333.00" y="384.36" width="3.40" height="3.40" fill="#3ba6dd"/>
<path d="M208.70 331.30 L216.57 386.06 L224.45 388.16 L240.20 390.27 L271.70 389.57 L334.70 392.37" fill="none" stroke="#b31c3e" stroke-width="1.0"/>
<path d="M208.70 333.40L210.70 329.90L206.70 329.90Z" fill="#b31c3e"/>
<line x1="216.57" y1="385.35" x2="216.57" y2="386.76" stroke="#b31c3e" stroke-width="0.8" opacity="0.6"/>
<line x1="215.07" y1="385.35" x2="218.07" y2="385.35" stroke="#b31c3e" stroke-width="0.8" opacity="0.6"/>
<line x1="215.07" y1="386.76" x2="218.07" y2="386.76" stroke="#b31c3e" stroke-width="0.8" opacity="0.6"/>
<path d="M216.57 388.16L218.57 384.66L214.57 384.66Z" fill="#b31c3e"/>
<line x1="224.45" y1="387.46" x2="224.45" y2="388.86" stroke="#b31c3e" stroke-width="0.8" opacity="0.6"/>
<line x1="222.95" y1="387.46" x2="225.95" y2="387.46" stroke="#b31c3e" stroke-width="0.8" opacity="0.6"/>
<line x1="222.95" y1="388.86" x2="225.95" y2="388.86" stroke="#b31c3e" stroke-width="0.8" opacity="0.6"/>
<path d="M224.45 390.26L226.45 386.76L222.45 386.76Z" fill="#b31c3e"/>
<line x1="240.20" y1="389.57" x2="240.20" y2="390.97" stroke="#b31c3e" stroke-width="0.8" opacity="0.6"/>
<line x1="238.70" y1="389.57" x2="241.70" y2="389.57" stroke="#b31c3e" stroke-width="0.8" opacity="0.6"/>
<line x1="238.70" y1="390.97" x2="241.70" y2="390.97" stroke="#b31c3e" stroke-width="0.8" opacity="0.6"/>
<path d="M240.20 392.37L242.20 388.87L238.20 388.87Z" fill="#b31c3e"/>
<line x1="271.70" y1="388.86" x2="271.70" y2="390.27" stroke="#b31c3e" stroke-width="0.8" opacity="0.6"/>
<line x1="270.20" y1="388.86" x2="273.20" y2="388.86" stroke="#b31c3e" stroke-width="0.8" opacity="0.6"/>
<line x1="270.20" y1="390.27" x2="273.20" y2="390.27" stroke="#b31c3e" stroke-width="0.8" opacity="0.6"/>
<path d="M271.70 391.67L273.70 388.17L269.70 388.17Z" fill="#b31c3e"/>
<line x1="334.70" y1="391.67" x2="334.70" y2="393.08" stroke="#b31c3e" stroke-width="0.8" opacity="0.6"/>
<line x1="333.20" y1="391.67" x2="336.20" y2="391.67" stroke="#b31c3e" stroke-width="0.8" opacity="0.6"/>
<line x1="333.20" y1="393.08" x2="336.20" y2="393.08" stroke="#b31c3e" stroke-width="0.8" opacity="0.6"/>
<path d="M334.70 394.47L336.70 390.97L332.70 390.97Z" fill="#b31c3e"/>
<path d="M208.70 331.30 L216.57 386.06 L224.45 388.86 L240.20 390.27 L271.70 390.97 L334.70 393.08" fill="none" stroke="#1c2f5a" stroke-width="1.0"/>
<path d="M208.70 329.20L210.70 332.70L206.70 332.70Z" fill="#1c2f5a"/>
<line x1="216.57" y1="385.35" x2="216.57" y2="386.76" stroke="#1c2f5a" stroke-width="0.8" opacity="0.6"/>
<line x1="215.07" y1="385.35" x2="218.07" y2="385.35" stroke="#1c2f5a" stroke-width="0.8" opacity="0.6"/>
<line x1="215.07" y1="386.76" x2="218.07" y2="386.76" stroke="#1c2f5a" stroke-width="0.8" opacity="0.6"/>
<path d="M216.57 383.96L218.57 387.46L214.57 387.46Z" fill="#1c2f5a"/>
<line x1="224.45" y1="388.16" x2="224.45" y2="389.57" stroke="#1c2f5a" stroke-width="0.8" opacity="0.6"/>
<line x1="222.95" y1="388.16" x2="225.95" y2="388.16" stroke="#1c2f5a" stroke-width="0.8" opacity="0.6"/>
<line x1="222.95" y1="389.57" x2="225.95" y2="389.57" stroke="#1c2f5a" stroke-width="0.8" opacity="0.6"/>
<path d="M224.45 386.76L226.45 390.26L222.45 390.26Z" fill="#1c2f5a"/>
<line x1="240.20" y1="389.57" x2="240.20" y2="390.97" stroke="#1c2f5a" stroke-width="0.8" opacity="0.6"/>
<line x1="238.70" y1="389.57" x2="241.70" y2="389.57" stroke="#1c2f5a" stroke-width="0.8" opacity="0.6"/>
<line x1="238.70" y1="390.97" x2="241.70" y2="390.97" stroke="#1c2f5a" stroke-width="0.8" opacity="0.6"/>
<path d="M240.20 388.17L242.20 391.67L238.20 391.67Z" fill="#1c2f5a"/>
<line x1="271.70" y1="390.27" x2="271.70" y2="391.67" stroke="#1c2f5a" stroke-width="0.8" opacity="0.6"/>
<line x1="270.20" y1="390.27" x2="273.20" y2="390.27" stroke="#1c2f5a" stroke-width="0.8" opacity="0.6"/>
<line x1="270.20" y1="391.67" x2="273.20" y2="391.67" stroke="#1c2f5a" stroke-width="0.8" opacity="0.6"/>
<path d="M271.70 388.87L273.70 392.37L269.70 392.37Z" fill="#1c2f5a"/>
<line x1="334.70" y1="392.37" x2="334.70" y2="393.78" stroke="#1c2f5a" stroke-width="0.8" opacity="0.6"/>
<line x1="333.20" y1="392.37" x2="336.20" y2="392.37" stroke="#1c2f5a" stroke-width="0.8" opacity="0.6"/>
<line x1="333.20" y1="393.78" x2="336.20" y2="393.78" stroke="#1c2f5a" stroke-width="0.8" opacity="0.6"/>
<path d="M334.70 390.98L336.70 394.48L332.70 394.48Z" fill="#1c2f5a"/>
<path d="M208.70 331.30 L216.57 332.00 L224.45 333.41 L240.20 338.32 L271.70 347.45 L334.70 365.70" fill="none" stroke="#e8952a" stroke-width="1.0"/>
<line x1="208.70" y1="329.19" x2="208.70" y2="333.41" stroke="#e8952a" stroke-width="0.8" opacity="0.6"/>
<line x1="207.20" y1="329.19" x2="210.20" y2="329.19" stroke="#e8952a" stroke-width="0.8" opacity="0.6"/>
<line x1="207.20" y1="333.41" x2="210.20" y2="333.41" stroke="#e8952a" stroke-width="0.8" opacity="0.6"/>
<circle cx="208.70" cy="331.30" r="1.80" fill="#e8952a"/>
<line x1="216.57" y1="322.17" x2="216.57" y2="341.83" stroke="#e8952a" stroke-width="0.8" opacity="0.6"/>
<line x1="215.07" y1="322.17" x2="218.07" y2="322.17" stroke="#e8952a" stroke-width="0.8" opacity="0.6"/>
<line x1="215.07" y1="341.83" x2="218.07" y2="341.83" stroke="#e8952a" stroke-width="0.8" opacity="0.6"/>
<circle cx="216.57" cy="332.00" r="1.80" fill="#e8952a"/>
<line x1="224.45" y1="328.49" x2="224.45" y2="338.32" stroke="#e8952a" stroke-width="0.8" opacity="0.6"/>
<line x1="222.95" y1="328.49" x2="225.95" y2="328.49" stroke="#e8952a" stroke-width="0.8" opacity="0.6"/>
<line x1="222.95" y1="338.32" x2="225.95" y2="338.32" stroke="#e8952a" stroke-width="0.8" opacity="0.6"/>
<circle cx="224.45" cy="333.41" r="1.80" fill="#e8952a"/>
<line x1="240.20" y1="337.62" x2="240.20" y2="339.02" stroke="#e8952a" stroke-width="0.8" opacity="0.6"/>
<line x1="238.70" y1="337.62" x2="241.70" y2="337.62" stroke="#e8952a" stroke-width="0.8" opacity="0.6"/>
<line x1="238.70" y1="339.02" x2="241.70" y2="339.02" stroke="#e8952a" stroke-width="0.8" opacity="0.6"/>
<circle cx="240.20" cy="338.32" r="1.80" fill="#e8952a"/>
<line x1="271.70" y1="346.74" x2="271.70" y2="348.15" stroke="#e8952a" stroke-width="0.8" opacity="0.6"/>
<line x1="270.20" y1="346.74" x2="273.20" y2="346.74" stroke="#e8952a" stroke-width="0.8" opacity="0.6"/>
<line x1="270.20" y1="348.15" x2="273.20" y2="348.15" stroke="#e8952a" stroke-width="0.8" opacity="0.6"/>
<circle cx="271.70" cy="347.45" r="1.80" fill="#e8952a"/>
<line x1="334.70" y1="364.29" x2="334.70" y2="367.10" stroke="#e8952a" stroke-width="0.8" opacity="0.6"/>
<line x1="333.20" y1="364.29" x2="336.20" y2="364.29" stroke="#e8952a" stroke-width="0.8" opacity="0.6"/>
<line x1="333.20" y1="367.10" x2="336.20" y2="367.10" stroke="#e8952a" stroke-width="0.8" opacity="0.6"/>
<circle cx="334.70" cy="365.70" r="1.80" fill="#e8952a"/>
<text transform="translate(271.90 429.80)" font-size="10" text-anchor="middle" fill="#231f20" font-weight="bold" textLength="45" lengthAdjust="spacingAndGlyphs">ABT-199 [μm]</text>
<line x1="339.80" y1="320.90" x2="349.00" y2="320.90" stroke="#e8952a" stroke-width="1.2" />
<circle cx="344.30" cy="320.90" r="1.80" fill="#e8952a"/>
<text transform="translate(354.60 323.70)" font-size="7.9" text-anchor="start" fill="#231f20" stroke="#231f20" stroke-width="0.22">0 nM CB-839</text>
<line x1="339.80" y1="330.65" x2="349.00" y2="330.65" stroke="#3ba6dd" stroke-width="1.2" />
<rect x="342.60" y="328.95" width="3.40" height="3.40" fill="#3ba6dd"/>
<text transform="translate(354.60 333.45)" font-size="7.9" text-anchor="start" fill="#231f20" stroke="#231f20" stroke-width="0.22">50 nM CB-839</text>
<line x1="339.80" y1="340.40" x2="349.00" y2="340.40" stroke="#1c2f5a" stroke-width="1.2" />
<path d="M344.30 338.30L346.30 341.80L342.30 341.80Z" fill="#1c2f5a"/>
<text transform="translate(354.60 343.20)" font-size="7.9" text-anchor="start" fill="#231f20" stroke="#231f20" stroke-width="0.22">100 nM CB-839</text>
<line x1="339.80" y1="350.15" x2="349.00" y2="350.15" stroke="#b31c3e" stroke-width="1.2" />
<path d="M344.30 352.25L346.30 348.75L342.30 348.75Z" fill="#b31c3e"/>
<text transform="translate(354.60 352.95)" font-size="7.9" text-anchor="start" fill="#231f20" stroke="#231f20" stroke-width="0.22">200 nM CB-839</text>
<text transform="translate(453.70 318.80) rotate(90)" font-size="8" fill="#231f20" stroke="#231f20" stroke-width="0.22"><tspan font-style="italic">P</tspan> &lt; .0001</text>
<line x1="450.10" y1="318.80" x2="450.10" y2="353.20" stroke="#231f20" stroke-width="1.0" />
<text transform="translate(439.60 314.80) rotate(90)" font-size="8" fill="#231f20" stroke="#231f20" stroke-width="0.22"><tspan font-style="italic">P</tspan> = .0001</text>
<line x1="435.60" y1="322.90" x2="435.60" y2="344.40" stroke="#231f20" stroke-width="1.0" />
<text transform="translate(424.50 308.70) rotate(90)" font-size="8" fill="#231f20" stroke="#231f20" stroke-width="0.22"><tspan font-style="italic">P</tspan> = .0007</text>
<line x1="421.40" y1="324.20" x2="421.40" y2="329.90" stroke="#231f20" stroke-width="1.0" />
<text transform="translate(55.00 460.00)" font-size="12.2" text-anchor="start" fill="#000" font-weight="bold" stroke="#000" stroke-width="0.45">C</text>
<text transform="translate(174.00 461.50) scale(0.96 1)" font-size="10.4" text-anchor="middle" fill="#231f20" stroke="#231f20" stroke-width="0.22">SU-DHL-4</text>
<text transform="translate(174.00 478.00) scale(0.95 1)" font-size="8.8" text-anchor="middle" fill="#231f20" stroke="#231f20" stroke-width="0.22">ABT-199 [nM]</text>
<text transform="translate(106.90 486.80)" font-size="8.9" text-anchor="end" fill="#231f20" stroke="#231f20" stroke-width="0.22">N = 3</text>
<text transform="translate(116.44 490.60)" font-size="8.6" text-anchor="middle" fill="#231f20" stroke="#231f20" stroke-width="0.22">250</text>
<text transform="translate(141.72 490.60)" font-size="8.6" text-anchor="middle" fill="#231f20" stroke="#231f20" stroke-width="0.22">500</text>
<text transform="translate(167.00 490.60)" font-size="8.6" text-anchor="middle" fill="#231f20" stroke="#231f20" stroke-width="0.22">1000</text>
<text transform="translate(192.28 490.60)" font-size="8.6" text-anchor="middle" fill="#231f20" stroke="#231f20" stroke-width="0.22">2000</text>
<text transform="translate(217.56 490.60)" font-size="8.6" text-anchor="middle" fill="#231f20" stroke="#231f20" stroke-width="0.22">4000</text>
<text transform="translate(101.00 514.90)" font-size="8.6" text-anchor="end" fill="#231f20" stroke="#231f20" stroke-width="0.22">50</text>
<text transform="translate(101.00 549.90)" font-size="8.6" text-anchor="end" fill="#231f20" stroke="#231f20" stroke-width="0.22">100</text>
<text transform="translate(101.00 584.90)" font-size="8.6" text-anchor="end" fill="#231f20" stroke="#231f20" stroke-width="0.22">200</text>
<text transform="translate(80.70 547.30) rotate(-90)" font-size="11.2" text-anchor="middle" fill="#231f20" font-weight="bold" textLength="39" lengthAdjust="spacingAndGlyphs">CB839 [nM]</text>
<rect x="104.30" y="494.30" width="126.40" height="105.00" fill="#2c2091" />
<rect x="205.42" y="494.30" width="25.28" height="35.00" fill="#3741aa" />
<line x1="129.58" y1="494.30" x2="129.58" y2="599.30" stroke="#1a1560" stroke-width="0.7" opacity="0.5"/>
<line x1="154.86" y1="494.30" x2="154.86" y2="599.30" stroke="#1a1560" stroke-width="0.7" opacity="0.5"/>
<line x1="180.14" y1="494.30" x2="180.14" y2="599.30" stroke="#1a1560" stroke-width="0.7" opacity="0.5"/>
<line x1="205.42" y1="494.30" x2="205.42" y2="599.30" stroke="#1a1560" stroke-width="0.7" opacity="0.5"/>
<line x1="104.30" y1="529.30" x2="230.70" y2="529.30" stroke="#1a1560" stroke-width="0.9" opacity="0.6"/>
<line x1="104.30" y1="564.30" x2="230.70" y2="564.30" stroke="#1a1560" stroke-width="0.9" opacity="0.6"/>
<text transform="translate(109.30 507.10) scale(1.1 1)" font-size="7.2" text-anchor="start" fill="#9f99d8" stroke="#9f99d8" stroke-width="0.22">48</text>
<text transform="translate(108.90 518.80) scale(1.3 1)" font-size="4.4" text-anchor="start" fill="#948ed0" font-weight="bold">+/-5</text>
<text transform="translate(118.80 529.70)" font-size="5" text-anchor="end" fill="#8e88cc">*</text>
<text transform="translate(134.58 507.10) scale(1.1 1)" font-size="7.2" text-anchor="start" fill="#9f99d8" stroke="#9f99d8" stroke-width="0.22">49</text>
<text transform="translate(134.18 518.80) scale(1.3 1)" font-size="4.4" text-anchor="start" fill="#948ed0" font-weight="bold">+/-5</text>
<text transform="translate(144.08 529.70)" font-size="5" text-anchor="end" fill="#8e88cc">*</text>
<text transform="translate(159.86 507.10) scale(1.1 1)" font-size="7.2" text-anchor="start" fill="#9f99d8" stroke="#9f99d8" stroke-width="0.22">49</text>
<text transform="translate(159.46 518.80) scale(1.3 1)" font-size="4.4" text-anchor="start" fill="#948ed0" font-weight="bold">+/-2</text>
<text transform="translate(169.36 529.70)" font-size="5" text-anchor="end" fill="#8e88cc">*</text>
<text transform="translate(185.14 507.10) scale(1.1 1)" font-size="7.2" text-anchor="start" fill="#9f99d8" stroke="#9f99d8" stroke-width="0.22">45</text>
<text transform="translate(184.74 518.80) scale(1.3 1)" font-size="4.4" text-anchor="start" fill="#948ed0" font-weight="bold">+/-2</text>
<text transform="translate(194.64 529.70)" font-size="5" text-anchor="end" fill="#8e88cc">**</text>
<text transform="translate(210.42 507.10) scale(1.1 1)" font-size="7.2" text-anchor="start" fill="#9f99d8" stroke="#9f99d8" stroke-width="0.22">31</text>
<text transform="translate(210.02 518.80) scale(1.3 1)" font-size="4.4" text-anchor="start" fill="#948ed0" font-weight="bold">+/-1</text>
<text transform="translate(219.92 529.70)" font-size="5" text-anchor="end" fill="#8e88cc">***</text>
<text transform="translate(109.30 542.10) scale(1.1 1)" font-size="7.2" text-anchor="start" fill="#9f99d8" stroke="#9f99d8" stroke-width="0.22">55</text>
<text transform="translate(108.90 553.80) scale(1.3 1)" font-size="4.4" text-anchor="start" fill="#948ed0" font-weight="bold">+/-1</text>
<text transform="translate(118.80 564.70)" font-size="5" text-anchor="end" fill="#8e88cc">**</text>
<text transform="translate(134.58 542.10) scale(1.1 1)" font-size="7.2" text-anchor="start" fill="#9f99d8" stroke="#9f99d8" stroke-width="0.22">58</text>
<text transform="translate(134.18 553.80) scale(1.3 1)" font-size="4.4" text-anchor="start" fill="#948ed0" font-weight="bold">+/-5</text>
<text transform="translate(144.08 564.70)" font-size="5" text-anchor="end" fill="#8e88cc">*</text>
<text transform="translate(159.86 542.10) scale(1.1 1)" font-size="7.2" text-anchor="start" fill="#9f99d8" stroke="#9f99d8" stroke-width="0.22">57</text>
<text transform="translate(159.46 553.80) scale(1.3 1)" font-size="4.4" text-anchor="start" fill="#948ed0" font-weight="bold">+/-1</text>
<text transform="translate(169.36 564.70)" font-size="5" text-anchor="end" fill="#8e88cc">***</text>
<text transform="translate(185.14 542.10) scale(1.1 1)" font-size="7.2" text-anchor="start" fill="#9f99d8" stroke="#9f99d8" stroke-width="0.22">50</text>
<text transform="translate(184.74 553.80) scale(1.3 1)" font-size="4.4" text-anchor="start" fill="#948ed0" font-weight="bold">+/-0</text>
<text transform="translate(194.64 564.70)" font-size="5" text-anchor="end" fill="#8e88cc">***</text>
<text transform="translate(210.42 542.10) scale(1.1 1)" font-size="7.2" text-anchor="start" fill="#9f99d8" stroke="#9f99d8" stroke-width="0.22">33</text>
<text transform="translate(210.02 553.80) scale(1.3 1)" font-size="4.4" text-anchor="start" fill="#948ed0" font-weight="bold">+/-0</text>
<text transform="translate(219.92 564.70)" font-size="5" text-anchor="end" fill="#8e88cc">***</text>
<text transform="translate(109.30 577.10) scale(1.1 1)" font-size="7.2" text-anchor="start" fill="#9f99d8" stroke="#9f99d8" stroke-width="0.22">53</text>
<text transform="translate(108.90 588.80) scale(1.3 1)" font-size="4.4" text-anchor="start" fill="#948ed0" font-weight="bold">+/-2</text>
<text transform="translate(118.80 599.70)" font-size="5" text-anchor="end" fill="#8e88cc">**</text>
<text transform="translate(134.58 577.10) scale(1.1 1)" font-size="7.2" text-anchor="start" fill="#9f99d8" stroke="#9f99d8" stroke-width="0.22">54</text>
<text transform="translate(134.18 588.80) scale(1.3 1)" font-size="4.4" text-anchor="start" fill="#948ed0" font-weight="bold">+/-1</text>
<text transform="translate(144.08 599.70)" font-size="5" text-anchor="end" fill="#8e88cc">***</text>
<text transform="translate(159.86 577.10) scale(1.1 1)" font-size="7.2" text-anchor="start" fill="#9f99d8" stroke="#9f99d8" stroke-width="0.22">54</text>
<text transform="translate(159.46 588.80) scale(1.3 1)" font-size="4.4" text-anchor="start" fill="#948ed0" font-weight="bold">+/-0</text>
<text transform="translate(169.36 599.70)" font-size="5" text-anchor="end" fill="#8e88cc">***</text>
<text transform="translate(185.14 577.10) scale(1.1 1)" font-size="7.2" text-anchor="start" fill="#9f99d8" stroke="#9f99d8" stroke-width="0.22">49</text>
<text transform="translate(184.74 588.80) scale(1.3 1)" font-size="4.4" text-anchor="start" fill="#948ed0" font-weight="bold">+/-0</text>
<text transform="translate(194.64 599.70)" font-size="5" text-anchor="end" fill="#8e88cc">***</text>
<text transform="translate(210.42 577.10) scale(1.1 1)" font-size="7.2" text-anchor="start" fill="#9f99d8" stroke="#9f99d8" stroke-width="0.22">33</text>
<text transform="translate(210.02 588.80) scale(1.3 1)" font-size="4.4" text-anchor="start" fill="#948ed0" font-weight="bold">+/-0</text>
<text transform="translate(219.92 599.70)" font-size="5" text-anchor="end" fill="#8e88cc">***</text>
<rect x="235.00" y="494.30" width="9.2" height="105.00" fill="url(#cbar)"/>
<text transform="translate(255.80 517.20) rotate(-90)" font-size="9.4" text-anchor="middle" fill="#231f20" font-weight="bold" textLength="24.7" lengthAdjust="spacingAndGlyphs">Synergy</text>
<text transform="translate(255.80 569.70) rotate(-90)" font-size="9.4" text-anchor="middle" fill="#231f20" font-weight="bold" textLength="37" lengthAdjust="spacingAndGlyphs">Antagonism</text>
<text transform="translate(174.10 609.80)" font-size="8.2" text-anchor="middle" fill="#231f20" textLength="114.5" lengthAdjust="spacingAndGlyphs" stroke="#231f20" stroke-width="0.22">Loewe synergy and antagonism</text>
<text transform="translate(174.00 619.80)" font-size="8.4" text-anchor="middle" fill="#231f20" textLength="98.5" lengthAdjust="spacingAndGlyphs" stroke="#231f20" stroke-width="0.22">Survival ABT199 + CB839</text>
<rect x="226.40" y="494.30" width="4.30" height="35.00" fill="#2c2091" opacity="0.7"/>
<text transform="translate(380.00 461.50) scale(0.96 1)" font-size="10.4" text-anchor="middle" fill="#231f20" stroke="#231f20" stroke-width="0.22">U2932</text>
<text transform="translate(380.00 478.00) scale(0.95 1)" font-size="8.8" text-anchor="middle" fill="#231f20" stroke="#231f20" stroke-width="0.22">ABT-199 [nM]</text>
<text transform="translate(313.20 486.80)" font-size="8.9" text-anchor="end" fill="#231f20" stroke="#231f20" stroke-width="0.22">N = 3</text>
<text transform="translate(322.65 490.60)" font-size="8.6" text-anchor="middle" fill="#231f20" stroke="#231f20" stroke-width="0.22">250</text>
<text transform="translate(347.75 490.60)" font-size="8.6" text-anchor="middle" fill="#231f20" stroke="#231f20" stroke-width="0.22">500</text>
<text transform="translate(372.85 490.60)" font-size="8.6" text-anchor="middle" fill="#231f20" stroke="#231f20" stroke-width="0.22">1000</text>
<text transform="translate(397.95 490.60)" font-size="8.6" text-anchor="middle" fill="#231f20" stroke="#231f20" stroke-width="0.22">2000</text>
<text transform="translate(423.05 490.60)" font-size="8.6" text-anchor="middle" fill="#231f20" stroke="#231f20" stroke-width="0.22">4000</text>
<text transform="translate(307.30 515.08)" font-size="8.6" text-anchor="end" fill="#231f20" stroke="#231f20" stroke-width="0.22">50</text>
<text transform="translate(307.30 550.02)" font-size="8.6" text-anchor="end" fill="#231f20" stroke="#231f20" stroke-width="0.22">100</text>
<text transform="translate(307.30 584.98)" font-size="8.6" text-anchor="end" fill="#231f20" stroke="#231f20" stroke-width="0.22">200</text>
<text transform="translate(287.00 547.42) rotate(-90)" font-size="11.2" text-anchor="middle" fill="#231f20" font-weight="bold" textLength="39" lengthAdjust="spacingAndGlyphs">CB839 [nM]</text>
<rect x="310.60" y="494.50" width="125.50" height="104.85" fill="#323caa" />
<rect x="310.60" y="494.50" width="25.10" height="34.95" fill="#2c2091" />
<rect x="335.70" y="494.50" width="25.10" height="34.95" fill="#2c2091" />
<rect x="360.80" y="494.50" width="25.10" height="34.95" fill="#2c2091" />
<rect x="385.90" y="494.50" width="25.10" height="34.95" fill="#3848b0" />
<rect x="411.00" y="494.50" width="25.10" height="34.95" fill="#2470c8" />
<rect x="335.70" y="529.45" width="25.10" height="34.95" fill="#2d2696" />
<rect x="385.90" y="529.45" width="25.10" height="34.95" fill="#285ac3" />
<rect x="411.00" y="529.45" width="25.10" height="34.95" fill="#1e7dd2" />
<rect x="310.60" y="564.40" width="25.10" height="34.95" fill="#2f4ab6" />
<rect x="360.80" y="564.40" width="25.10" height="34.95" fill="#2f4ab6" />
<rect x="385.90" y="564.40" width="25.10" height="34.95" fill="#2864c8" />
<rect x="411.00" y="564.40" width="25.10" height="34.95" fill="#236ecd" />
<line x1="335.70" y1="494.50" x2="335.70" y2="599.35" stroke="#1a1560" stroke-width="0.7" opacity="0.5"/>
<line x1="360.80" y1="494.50" x2="360.80" y2="599.35" stroke="#1a1560" stroke-width="0.7" opacity="0.5"/>
<line x1="385.90" y1="494.50" x2="385.90" y2="599.35" stroke="#1a1560" stroke-width="0.7" opacity="0.5"/>
<line x1="411.00" y1="494.50" x2="411.00" y2="599.35" stroke="#1a1560" stroke-width="0.7" opacity="0.5"/>
<line x1="310.60" y1="529.45" x2="436.10" y2="529.45" stroke="#1a1560" stroke-width="0.9" opacity="0.6"/>
<line x1="310.60" y1="564.40" x2="436.10" y2="564.40" stroke="#1a1560" stroke-width="0.9" opacity="0.6"/>
<text transform="translate(315.60 507.30) scale(1.1 1)" font-size="7.2" text-anchor="start" fill="#9f99d8" stroke="#9f99d8" stroke-width="0.22">34</text>
<text transform="translate(315.20 519.00) scale(1.3 1)" font-size="4.4" text-anchor="start" fill="#948ed0" font-weight="bold">+/-6</text>
<text transform="translate(325.10 529.90)" font-size="5" text-anchor="end" fill="#8e88cc">***</text>
<text transform="translate(340.70 507.30) scale(1.1 1)" font-size="7.2" text-anchor="start" fill="#9f99d8" stroke="#9f99d8" stroke-width="0.22">34</text>
<text transform="translate(340.30 519.00) scale(1.3 1)" font-size="4.4" text-anchor="start" fill="#948ed0" font-weight="bold">+/-3</text>
<text transform="translate(350.20 529.90)" font-size="5" text-anchor="end" fill="#8e88cc">**</text>
<text transform="translate(365.80 507.30) scale(1.1 1)" font-size="7.2" text-anchor="start" fill="#9f99d8" stroke="#9f99d8" stroke-width="0.22">33</text>
<text transform="translate(365.40 519.00) scale(1.3 1)" font-size="4.4" text-anchor="start" fill="#948ed0" font-weight="bold">+/-6</text>
<text transform="translate(375.30 529.90)" font-size="5" text-anchor="end" fill="#8e88cc">***</text>
<text transform="translate(390.90 507.30) scale(1.1 1)" font-size="7.2" text-anchor="start" fill="#9f99d8" stroke="#9f99d8" stroke-width="0.22">30</text>
<text transform="translate(390.50 519.00) scale(1.3 1)" font-size="4.4" text-anchor="start" fill="#948ed0" font-weight="bold">+/-3</text>
<text transform="translate(400.40 529.90)" font-size="5" text-anchor="end" fill="#8e88cc">**</text>
<text transform="translate(416.00 507.30) scale(1.1 1)" font-size="7.2" text-anchor="start" fill="#9f99d8" stroke="#9f99d8" stroke-width="0.22">25</text>
<text transform="translate(415.60 519.00) scale(1.3 1)" font-size="4.4" text-anchor="start" fill="#948ed0" font-weight="bold">+/-3</text>
<text transform="translate(425.50 529.90)" font-size="5" text-anchor="end" fill="#8e88cc">***</text>
<text transform="translate(315.60 542.25) scale(1.1 1)" font-size="7.2" text-anchor="start" fill="#9f99d8" stroke="#9f99d8" stroke-width="0.22">30</text>
<text transform="translate(315.20 553.95) scale(1.3 1)" font-size="4.4" text-anchor="start" fill="#948ed0" font-weight="bold">+/-3</text>
<text transform="translate(325.10 564.85)" font-size="5" text-anchor="end" fill="#8e88cc">*</text>
<text transform="translate(340.70 542.25) scale(1.1 1)" font-size="7.2" text-anchor="start" fill="#9f99d8" stroke="#9f99d8" stroke-width="0.22">31</text>
<text transform="translate(340.30 553.95) scale(1.3 1)" font-size="4.4" text-anchor="start" fill="#948ed0" font-weight="bold">+/-3</text>
<text transform="translate(350.20 564.85)" font-size="5" text-anchor="end" fill="#8e88cc">*</text>
<text transform="translate(365.80 542.25) scale(1.1 1)" font-size="7.2" text-anchor="start" fill="#9f99d8" stroke="#9f99d8" stroke-width="0.22">30</text>
<text transform="translate(365.40 553.95) scale(1.3 1)" font-size="4.4" text-anchor="start" fill="#948ed0" font-weight="bold">+/-3</text>
<text transform="translate(375.30 564.85)" font-size="5" text-anchor="end" fill="#8e88cc">*</text>
<text transform="translate(390.90 542.25) scale(1.1 1)" font-size="7.2" text-anchor="start" fill="#9f99d8" stroke="#9f99d8" stroke-width="0.22">28</text>
<text transform="translate(390.50 553.95) scale(1.3 1)" font-size="4.4" text-anchor="start" fill="#948ed0" font-weight="bold">+/-3</text>
<text transform="translate(400.40 564.85)" font-size="5" text-anchor="end" fill="#8e88cc">*</text>
<text transform="translate(416.00 542.25) scale(1.1 1)" font-size="7.2" text-anchor="start" fill="#9f99d8" stroke="#9f99d8" stroke-width="0.22">25</text>
<text transform="translate(415.60 553.95) scale(1.3 1)" font-size="4.4" text-anchor="start" fill="#948ed0" font-weight="bold">+/-3</text>
<text transform="translate(425.50 564.85)" font-size="5" text-anchor="end" fill="#8e88cc">*</text>
<text transform="translate(315.60 577.20) scale(1.1 1)" font-size="7.2" text-anchor="start" fill="#9f99d8" stroke="#9f99d8" stroke-width="0.22">29</text>
<text transform="translate(315.20 588.90) scale(1.3 1)" font-size="4.4" text-anchor="start" fill="#948ed0" font-weight="bold">+/-1</text>
<text transform="translate(325.10 599.80)" font-size="5" text-anchor="end" fill="#8e88cc">**</text>
<text transform="translate(340.70 577.20) scale(1.1 1)" font-size="7.2" text-anchor="start" fill="#9f99d8" stroke="#9f99d8" stroke-width="0.22">30</text>
<text transform="translate(340.30 588.90) scale(1.3 1)" font-size="4.4" text-anchor="start" fill="#948ed0" font-weight="bold">+/-3</text>
<text transform="translate(350.20 599.80)" font-size="5" text-anchor="end" fill="#8e88cc">**</text>
<text transform="translate(365.80 577.20) scale(1.1 1)" font-size="7.2" text-anchor="start" fill="#9f99d8" stroke="#9f99d8" stroke-width="0.22">29</text>
<text transform="translate(365.40 588.90) scale(1.3 1)" font-size="4.4" text-anchor="start" fill="#948ed0" font-weight="bold">+/-1</text>
<text transform="translate(375.30 599.80)" font-size="5" text-anchor="end" fill="#8e88cc">**</text>
<text transform="translate(390.90 577.20) scale(1.1 1)" font-size="7.2" text-anchor="start" fill="#9f99d8" stroke="#9f99d8" stroke-width="0.22">27</text>
<text transform="translate(390.50 588.90) scale(1.3 1)" font-size="4.4" text-anchor="start" fill="#948ed0" font-weight="bold">+/-0</text>
<text transform="translate(400.40 599.80)" font-size="5" text-anchor="end" fill="#8e88cc">***</text>
<text transform="translate(416.00 577.20) scale(1.1 1)" font-size="7.2" text-anchor="start" fill="#9f99d8" stroke="#9f99d8" stroke-width="0.22">26</text>
<text transform="translate(415.60 588.90) scale(1.3 1)" font-size="4.4" text-anchor="start" fill="#948ed0" font-weight="bold">+/-1</text>
<text transform="translate(425.50 599.80)" font-size="5" text-anchor="end" fill="#8e88cc">**</text>
<rect x="440.30" y="494.50" width="9.2" height="104.85" fill="url(#cbar)"/>
<text transform="translate(461.10 517.20) rotate(-90)" font-size="9.4" text-anchor="middle" fill="#231f20" font-weight="bold" textLength="24.7" lengthAdjust="spacingAndGlyphs">Synergy</text>
<text transform="translate(461.10 569.70) rotate(-90)" font-size="9.4" text-anchor="middle" fill="#231f20" font-weight="bold" textLength="37" lengthAdjust="spacingAndGlyphs">Antagonism</text>
<text transform="translate(380.10 609.80)" font-size="8.2" text-anchor="middle" fill="#231f20" textLength="114.5" lengthAdjust="spacingAndGlyphs" stroke="#231f20" stroke-width="0.22">Loewe synergy and antagonism</text>
<text transform="translate(380.00 619.80)" font-size="8.4" text-anchor="middle" fill="#231f20" textLength="98.5" lengthAdjust="spacingAndGlyphs" stroke="#231f20" stroke-width="0.22">Survival ABT199 + CB839</text>
</g><rect x="0.5" y="0.5" width="519" height="629" fill="none" stroke="#555" stroke-width="1"/></svg></div>
</body></html>
